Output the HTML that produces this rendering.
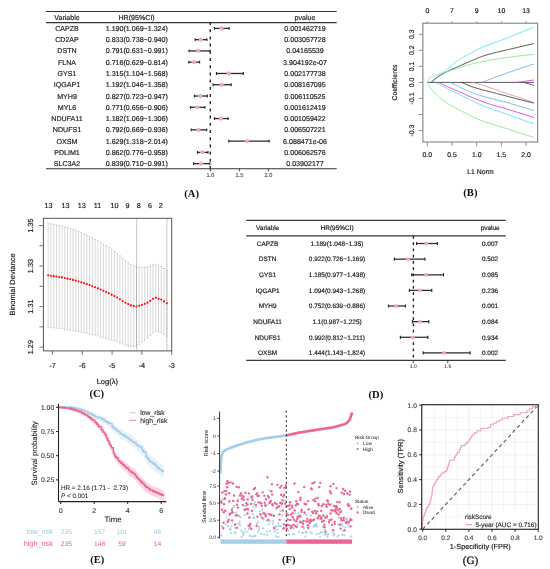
<!DOCTYPE html>
<html><head><meta charset="utf-8"><style>
html,body{margin:0;padding:0;background:#fff;}
svg{display:block;will-change:transform;}
text{text-rendering:geometricPrecision;}
</style></head><body>
<svg width="550" height="569" viewBox="0 0 550 569">
<rect width="550" height="569" fill="#fff"/>
<line x1="46" y1="11.5" x2="336.7" y2="11.5" stroke="#333" stroke-width="1.1"/>
<line x1="46" y1="22.6" x2="336.7" y2="22.6" stroke="#333" stroke-width="1.1"/>
<line x1="46" y1="168.7" x2="336.7" y2="168.7" stroke="#333" stroke-width="1.1"/>
<text x="67" y="19.54" font-size="7.1" text-anchor="middle" fill="#222" font-family='"Liberation Sans", sans-serif' stroke="#222" stroke-width="0.18">Variable</text>
<text x="136.6" y="19.54" font-size="7.1" text-anchor="middle" fill="#222" font-family='"Liberation Sans", sans-serif' stroke="#222" stroke-width="0.18">HR(95%CI)</text>
<text x="305" y="19.54" font-size="7.1" text-anchor="middle" fill="#222" font-family='"Liberation Sans", sans-serif' stroke="#222" stroke-width="0.18">pvalue</text>
<line x1="210.3" y1="22" x2="210.3" y2="168.7" stroke="#222" stroke-width="1.35" stroke-dasharray="3,4.2"/>
<text x="67" y="30.94" font-size="7.1" text-anchor="middle" fill="#222" font-family='"Liberation Sans", sans-serif' stroke="#222" stroke-width="0.18">CAPZB</text>
<text x="136.8" y="30.94" font-size="7.1" text-anchor="middle" fill="#222" font-family='"Liberation Sans", sans-serif' stroke="#222" stroke-width="0.18">1.190(1.069~1.324)</text>
<text x="305" y="30.94" font-size="7.1" text-anchor="middle" fill="#222" font-family='"Liberation Sans", sans-serif' stroke="#222" stroke-width="0.18">0.001462719</text>
<line x1="214.4" y1="28.4" x2="229.19" y2="28.4" stroke="#2a2a2a" stroke-width="1.3"/>
<line x1="214.4" y1="27" x2="214.4" y2="29.8" stroke="#222" stroke-width="1.1"/>
<line x1="229.19" y1="27" x2="229.19" y2="29.8" stroke="#222" stroke-width="1.1"/>
<circle cx="221.42" cy="28.4" r="2.15" fill="#f1a9c3"/>
<text x="67" y="42.21" font-size="7.1" text-anchor="middle" fill="#222" font-family='"Liberation Sans", sans-serif' stroke="#222" stroke-width="0.18">CD2AP</text>
<text x="136.8" y="42.21" font-size="7.1" text-anchor="middle" fill="#222" font-family='"Liberation Sans", sans-serif' stroke="#222" stroke-width="0.18">0.833(0.738~0.940)</text>
<text x="305" y="42.21" font-size="7.1" text-anchor="middle" fill="#222" font-family='"Liberation Sans", sans-serif' stroke="#222" stroke-width="0.18">0.003057728</text>
<line x1="195.2" y1="39.67" x2="206.92" y2="39.67" stroke="#2a2a2a" stroke-width="1.3"/>
<line x1="195.2" y1="38.27" x2="195.2" y2="41.07" stroke="#222" stroke-width="1.1"/>
<line x1="206.92" y1="38.27" x2="206.92" y2="41.07" stroke="#222" stroke-width="1.1"/>
<circle cx="200.71" cy="39.67" r="2.15" fill="#f1a9c3"/>
<text x="67" y="53.48" font-size="7.1" text-anchor="middle" fill="#222" font-family='"Liberation Sans", sans-serif' stroke="#222" stroke-width="0.18">DSTN</text>
<text x="136.8" y="53.48" font-size="7.1" text-anchor="middle" fill="#222" font-family='"Liberation Sans", sans-serif' stroke="#222" stroke-width="0.18">0.791(0.631~0.991)</text>
<text x="305" y="53.48" font-size="7.1" text-anchor="middle" fill="#222" font-family='"Liberation Sans", sans-serif' stroke="#222" stroke-width="0.18">0.04165539</text>
<line x1="189" y1="50.94" x2="209.88" y2="50.94" stroke="#2a2a2a" stroke-width="1.3"/>
<line x1="189" y1="49.54" x2="189" y2="52.34" stroke="#222" stroke-width="1.1"/>
<line x1="209.88" y1="49.54" x2="209.88" y2="52.34" stroke="#222" stroke-width="1.1"/>
<circle cx="198.28" cy="50.94" r="2.15" fill="#f1a9c3"/>
<text x="67" y="64.75" font-size="7.1" text-anchor="middle" fill="#222" font-family='"Liberation Sans", sans-serif' stroke="#222" stroke-width="0.18">FLNA</text>
<text x="136.8" y="64.75" font-size="7.1" text-anchor="middle" fill="#222" font-family='"Liberation Sans", sans-serif' stroke="#222" stroke-width="0.18">0.716(0.629~0.814)</text>
<text x="305" y="64.75" font-size="7.1" text-anchor="middle" fill="#222" font-family='"Liberation Sans", sans-serif' stroke="#222" stroke-width="0.18">3.904192e-07</text>
<line x1="188.88" y1="62.21" x2="199.61" y2="62.21" stroke="#2a2a2a" stroke-width="1.3"/>
<line x1="188.88" y1="60.81" x2="188.88" y2="63.61" stroke="#222" stroke-width="1.1"/>
<line x1="199.61" y1="60.81" x2="199.61" y2="63.61" stroke="#222" stroke-width="1.1"/>
<circle cx="193.93" cy="62.21" r="2.15" fill="#f1a9c3"/>
<text x="67" y="76.02" font-size="7.1" text-anchor="middle" fill="#222" font-family='"Liberation Sans", sans-serif' stroke="#222" stroke-width="0.18">GYS1</text>
<text x="136.8" y="76.02" font-size="7.1" text-anchor="middle" fill="#222" font-family='"Liberation Sans", sans-serif' stroke="#222" stroke-width="0.18">1.315(1.104~1.568)</text>
<text x="305" y="76.02" font-size="7.1" text-anchor="middle" fill="#222" font-family='"Liberation Sans", sans-serif' stroke="#222" stroke-width="0.18">0.002177738</text>
<line x1="216.43" y1="73.48" x2="243.34" y2="73.48" stroke="#2a2a2a" stroke-width="1.3"/>
<line x1="216.43" y1="72.08" x2="216.43" y2="74.88" stroke="#222" stroke-width="1.1"/>
<line x1="243.34" y1="72.08" x2="243.34" y2="74.88" stroke="#222" stroke-width="1.1"/>
<circle cx="228.67" cy="73.48" r="2.15" fill="#f1a9c3"/>
<text x="67" y="87.29" font-size="7.1" text-anchor="middle" fill="#222" font-family='"Liberation Sans", sans-serif' stroke="#222" stroke-width="0.18">IQGAP1</text>
<text x="136.8" y="87.29" font-size="7.1" text-anchor="middle" fill="#222" font-family='"Liberation Sans", sans-serif' stroke="#222" stroke-width="0.18">1.192(1.046~1.358)</text>
<text x="305" y="87.29" font-size="7.1" text-anchor="middle" fill="#222" font-family='"Liberation Sans", sans-serif' stroke="#222" stroke-width="0.18">0.008167095</text>
<line x1="213.07" y1="84.75" x2="231.16" y2="84.75" stroke="#2a2a2a" stroke-width="1.3"/>
<line x1="213.07" y1="83.35" x2="213.07" y2="86.15" stroke="#222" stroke-width="1.1"/>
<line x1="231.16" y1="83.35" x2="231.16" y2="86.15" stroke="#222" stroke-width="1.1"/>
<circle cx="221.54" cy="84.75" r="2.15" fill="#f1a9c3"/>
<text x="67" y="98.56" font-size="7.1" text-anchor="middle" fill="#222" font-family='"Liberation Sans", sans-serif' stroke="#222" stroke-width="0.18">MYH9</text>
<text x="136.8" y="98.56" font-size="7.1" text-anchor="middle" fill="#222" font-family='"Liberation Sans", sans-serif' stroke="#222" stroke-width="0.18">0.827(0.723~0.947)</text>
<text x="305" y="98.56" font-size="7.1" text-anchor="middle" fill="#222" font-family='"Liberation Sans", sans-serif' stroke="#222" stroke-width="0.18">0.006110525</text>
<line x1="194.33" y1="96.02" x2="207.33" y2="96.02" stroke="#2a2a2a" stroke-width="1.3"/>
<line x1="194.33" y1="94.62" x2="194.33" y2="97.42" stroke="#222" stroke-width="1.1"/>
<line x1="207.33" y1="94.62" x2="207.33" y2="97.42" stroke="#222" stroke-width="1.1"/>
<circle cx="200.37" cy="96.02" r="2.15" fill="#f1a9c3"/>
<text x="67" y="109.83" font-size="7.1" text-anchor="middle" fill="#222" font-family='"Liberation Sans", sans-serif' stroke="#222" stroke-width="0.18">MYL6</text>
<text x="136.8" y="109.83" font-size="7.1" text-anchor="middle" fill="#222" font-family='"Liberation Sans", sans-serif' stroke="#222" stroke-width="0.18">0.771(0.656~0.906)</text>
<text x="305" y="109.83" font-size="7.1" text-anchor="middle" fill="#222" font-family='"Liberation Sans", sans-serif' stroke="#222" stroke-width="0.18">0.001612419</text>
<line x1="190.45" y1="107.29" x2="204.95" y2="107.29" stroke="#2a2a2a" stroke-width="1.3"/>
<line x1="190.45" y1="105.89" x2="190.45" y2="108.69" stroke="#222" stroke-width="1.1"/>
<line x1="204.95" y1="105.89" x2="204.95" y2="108.69" stroke="#222" stroke-width="1.1"/>
<circle cx="197.12" cy="107.29" r="2.15" fill="#f1a9c3"/>
<text x="67" y="121.1" font-size="7.1" text-anchor="middle" fill="#222" font-family='"Liberation Sans", sans-serif' stroke="#222" stroke-width="0.18">NDUFA11</text>
<text x="136.8" y="121.1" font-size="7.1" text-anchor="middle" fill="#222" font-family='"Liberation Sans", sans-serif' stroke="#222" stroke-width="0.18">1.182(1.069~1.306)</text>
<text x="305" y="121.1" font-size="7.1" text-anchor="middle" fill="#222" font-family='"Liberation Sans", sans-serif' stroke="#222" stroke-width="0.18">0.001059422</text>
<line x1="214.4" y1="118.56" x2="228.15" y2="118.56" stroke="#2a2a2a" stroke-width="1.3"/>
<line x1="214.4" y1="117.16" x2="214.4" y2="119.96" stroke="#222" stroke-width="1.1"/>
<line x1="228.15" y1="117.16" x2="228.15" y2="119.96" stroke="#222" stroke-width="1.1"/>
<circle cx="220.96" cy="118.56" r="2.15" fill="#f1a9c3"/>
<text x="67" y="132.37" font-size="7.1" text-anchor="middle" fill="#222" font-family='"Liberation Sans", sans-serif' stroke="#222" stroke-width="0.18">NDUFS1</text>
<text x="136.8" y="132.37" font-size="7.1" text-anchor="middle" fill="#222" font-family='"Liberation Sans", sans-serif' stroke="#222" stroke-width="0.18">0.792(0.669~0.936)</text>
<text x="305" y="132.37" font-size="7.1" text-anchor="middle" fill="#222" font-family='"Liberation Sans", sans-serif' stroke="#222" stroke-width="0.18">0.006507221</text>
<line x1="191.2" y1="129.83" x2="206.69" y2="129.83" stroke="#2a2a2a" stroke-width="1.3"/>
<line x1="191.2" y1="128.43" x2="191.2" y2="131.23" stroke="#222" stroke-width="1.1"/>
<line x1="206.69" y1="128.43" x2="206.69" y2="131.23" stroke="#222" stroke-width="1.1"/>
<circle cx="198.34" cy="129.83" r="2.15" fill="#f1a9c3"/>
<text x="67" y="143.64" font-size="7.1" text-anchor="middle" fill="#222" font-family='"Liberation Sans", sans-serif' stroke="#222" stroke-width="0.18">OXSM</text>
<text x="136.8" y="143.64" font-size="7.1" text-anchor="middle" fill="#222" font-family='"Liberation Sans", sans-serif' stroke="#222" stroke-width="0.18">1.629(1.318~2.014)</text>
<text x="305" y="143.64" font-size="7.1" text-anchor="middle" fill="#222" font-family='"Liberation Sans", sans-serif' stroke="#222" stroke-width="0.18">6.088471e-06</text>
<line x1="228.84" y1="141.1" x2="269.21" y2="141.1" stroke="#2a2a2a" stroke-width="1.3"/>
<line x1="228.84" y1="139.7" x2="228.84" y2="142.5" stroke="#222" stroke-width="1.1"/>
<line x1="269.21" y1="139.7" x2="269.21" y2="142.5" stroke="#222" stroke-width="1.1"/>
<circle cx="246.88" cy="141.1" r="2.15" fill="#f1a9c3"/>
<text x="67" y="154.91" font-size="7.1" text-anchor="middle" fill="#222" font-family='"Liberation Sans", sans-serif' stroke="#222" stroke-width="0.18">PDLIM1</text>
<text x="136.8" y="154.91" font-size="7.1" text-anchor="middle" fill="#222" font-family='"Liberation Sans", sans-serif' stroke="#222" stroke-width="0.18">0.862(0.776~0.958)</text>
<text x="305" y="154.91" font-size="7.1" text-anchor="middle" fill="#222" font-family='"Liberation Sans", sans-serif' stroke="#222" stroke-width="0.18">0.006062576</text>
<line x1="197.41" y1="152.37" x2="207.96" y2="152.37" stroke="#2a2a2a" stroke-width="1.3"/>
<line x1="197.41" y1="150.97" x2="197.41" y2="153.77" stroke="#222" stroke-width="1.1"/>
<line x1="207.96" y1="150.97" x2="207.96" y2="153.77" stroke="#222" stroke-width="1.1"/>
<circle cx="202.4" cy="152.37" r="2.15" fill="#f1a9c3"/>
<text x="67" y="166.18" font-size="7.1" text-anchor="middle" fill="#222" font-family='"Liberation Sans", sans-serif' stroke="#222" stroke-width="0.18">SLC3A2</text>
<text x="136.8" y="166.18" font-size="7.1" text-anchor="middle" fill="#222" font-family='"Liberation Sans", sans-serif' stroke="#222" stroke-width="0.18">0.839(0.710~0.991)</text>
<text x="305" y="166.18" font-size="7.1" text-anchor="middle" fill="#222" font-family='"Liberation Sans", sans-serif' stroke="#222" stroke-width="0.18">0.03902177</text>
<line x1="193.58" y1="163.64" x2="209.88" y2="163.64" stroke="#2a2a2a" stroke-width="1.3"/>
<line x1="193.58" y1="162.24" x2="193.58" y2="165.04" stroke="#222" stroke-width="1.1"/>
<line x1="209.88" y1="162.24" x2="209.88" y2="165.04" stroke="#222" stroke-width="1.1"/>
<circle cx="201.06" cy="163.64" r="2.15" fill="#f1a9c3"/>
<line x1="210.4" y1="168.7" x2="210.4" y2="171.2" stroke="#333" stroke-width="0.9"/>
<text x="210.4" y="177.3" font-size="5.6" text-anchor="middle" fill="#444" font-family='"Liberation Sans", sans-serif' stroke="#444" stroke-width="0.1">1.0</text>
<line x1="239.4" y1="168.7" x2="239.4" y2="171.2" stroke="#333" stroke-width="0.9"/>
<text x="239.4" y="177.3" font-size="5.6" text-anchor="middle" fill="#444" font-family='"Liberation Sans", sans-serif' stroke="#444" stroke-width="0.1">1.5</text>
<line x1="268.4" y1="168.7" x2="268.4" y2="171.2" stroke="#333" stroke-width="0.9"/>
<text x="268.4" y="177.3" font-size="5.6" text-anchor="middle" fill="#444" font-family='"Liberation Sans", sans-serif' stroke="#444" stroke-width="0.1">2.0</text>
<text x="191.6" y="196.61" font-size="10.6" text-anchor="middle" fill="#111" font-family='"Liberation Serif", serif' font-weight="bold">(A)</text>
<rect x="422.9" y="23.2" width="114.8" height="118.8" fill="none" stroke="#777" stroke-width="1"/>
<line x1="427.3" y1="23.2" x2="427.3" y2="21.4" stroke="#777" stroke-width="0.8"/>
<text x="427.3" y="13.47" font-size="6.9" text-anchor="middle" fill="#222" font-family='"Liberation Sans", sans-serif' stroke="#222" stroke-width="0.18">0</text>
<line x1="452" y1="23.2" x2="452" y2="21.4" stroke="#777" stroke-width="0.8"/>
<text x="452" y="13.47" font-size="6.9" text-anchor="middle" fill="#222" font-family='"Liberation Sans", sans-serif' stroke="#222" stroke-width="0.18">7</text>
<line x1="476.7" y1="23.2" x2="476.7" y2="21.4" stroke="#777" stroke-width="0.8"/>
<text x="476.7" y="13.47" font-size="6.9" text-anchor="middle" fill="#222" font-family='"Liberation Sans", sans-serif' stroke="#222" stroke-width="0.18">9</text>
<line x1="501.4" y1="23.2" x2="501.4" y2="21.4" stroke="#777" stroke-width="0.8"/>
<text x="501.4" y="13.47" font-size="6.9" text-anchor="middle" fill="#222" font-family='"Liberation Sans", sans-serif' stroke="#222" stroke-width="0.18">10</text>
<line x1="526.1" y1="23.2" x2="526.1" y2="21.4" stroke="#777" stroke-width="0.8"/>
<text x="526.1" y="13.47" font-size="6.9" text-anchor="middle" fill="#222" font-family='"Liberation Sans", sans-serif' stroke="#222" stroke-width="0.18">13</text>
<line x1="427.3" y1="142" x2="427.3" y2="146.2" stroke="#777" stroke-width="0.8"/>
<text x="427.3" y="157.37" font-size="6.9" text-anchor="middle" fill="#222" font-family='"Liberation Sans", sans-serif' stroke="#222" stroke-width="0.18">0.0</text>
<line x1="452" y1="142" x2="452" y2="146.2" stroke="#777" stroke-width="0.8"/>
<text x="452" y="157.37" font-size="6.9" text-anchor="middle" fill="#222" font-family='"Liberation Sans", sans-serif' stroke="#222" stroke-width="0.18">0.5</text>
<line x1="476.7" y1="142" x2="476.7" y2="146.2" stroke="#777" stroke-width="0.8"/>
<text x="476.7" y="157.37" font-size="6.9" text-anchor="middle" fill="#222" font-family='"Liberation Sans", sans-serif' stroke="#222" stroke-width="0.18">1.0</text>
<line x1="501.4" y1="142" x2="501.4" y2="146.2" stroke="#777" stroke-width="0.8"/>
<text x="501.4" y="157.37" font-size="6.9" text-anchor="middle" fill="#222" font-family='"Liberation Sans", sans-serif' stroke="#222" stroke-width="0.18">1.5</text>
<line x1="526.1" y1="142" x2="526.1" y2="146.2" stroke="#777" stroke-width="0.8"/>
<text x="526.1" y="157.37" font-size="6.9" text-anchor="middle" fill="#222" font-family='"Liberation Sans", sans-serif' stroke="#222" stroke-width="0.18">2.0</text>
<line x1="422.9" y1="34.22" x2="418.7" y2="34.22" stroke="#777" stroke-width="0.8"/>
<text x="411.2" y="36.69" font-size="6.9" text-anchor="middle" fill="#222" font-family='"Liberation Sans", sans-serif' transform="rotate(-90 411.2 34.22)" stroke="#222" stroke-width="0.18">0.3</text>
<line x1="422.9" y1="50.28" x2="418.7" y2="50.28" stroke="#777" stroke-width="0.8"/>
<text x="411.2" y="52.75" font-size="6.9" text-anchor="middle" fill="#222" font-family='"Liberation Sans", sans-serif' transform="rotate(-90 411.2 50.28)" stroke="#222" stroke-width="0.18">0.2</text>
<line x1="422.9" y1="66.34" x2="418.7" y2="66.34" stroke="#777" stroke-width="0.8"/>
<text x="411.2" y="68.81" font-size="6.9" text-anchor="middle" fill="#222" font-family='"Liberation Sans", sans-serif' transform="rotate(-90 411.2 66.34)" stroke="#222" stroke-width="0.18">0.1</text>
<line x1="422.9" y1="82.4" x2="418.7" y2="82.4" stroke="#777" stroke-width="0.8"/>
<text x="411.2" y="84.87" font-size="6.9" text-anchor="middle" fill="#222" font-family='"Liberation Sans", sans-serif' transform="rotate(-90 411.2 82.4)" stroke="#222" stroke-width="0.18">0.0</text>
<line x1="422.9" y1="98.46" x2="418.7" y2="98.46" stroke="#777" stroke-width="0.8"/>
<text x="411.2" y="100.93" font-size="6.9" text-anchor="middle" fill="#222" font-family='"Liberation Sans", sans-serif' transform="rotate(-90 411.2 98.46)" stroke="#222" stroke-width="0.18">-0.1</text>
<line x1="422.9" y1="114.52" x2="418.7" y2="114.52" stroke="#777" stroke-width="0.8"/>
<line x1="422.9" y1="130.58" x2="418.7" y2="130.58" stroke="#777" stroke-width="0.8"/>
<text x="411.2" y="133.05" font-size="6.9" text-anchor="middle" fill="#222" font-family='"Liberation Sans", sans-serif' transform="rotate(-90 411.2 130.58)" stroke="#222" stroke-width="0.18">-0.3</text>
<text x="480.5" y="174.07" font-size="6.9" text-anchor="middle" fill="#222" font-family='"Liberation Sans", sans-serif' stroke="#222" stroke-width="0.18">L1 Norm</text>
<text x="394.7" y="85.07" font-size="6.9" text-anchor="middle" fill="#222" font-family='"Liberation Sans", sans-serif' transform="rotate(-90 394.7 82.6)" stroke="#222" stroke-width="0.18">Coefficients</text>
<text x="470.4" y="196.01" font-size="10.6" text-anchor="middle" fill="#111" font-family='"Liberation Serif", serif' font-weight="bold">(B)</text>
<line x1="427.5" y1="82.4" x2="533.9" y2="82.4" stroke="#444" stroke-width="0.9"/>
<polyline points="430.7,82.6 431.34,82.04 432.24,81.27 433.3,80.35 434.43,79.38 435.52,78.43 436.5,77.6 437.36,76.88 438.17,76.19 438.96,75.54 439.73,74.9 440.51,74.26 441.3,73.6 442.12,72.92 442.97,72.23 443.81,71.54 444.64,70.86 445.45,70.21 446.2,69.6 446.82,69.1 447.3,68.7 447.75,68.34 448.28,67.92 448.99,67.37 450,66.6 451.36,65.55 453,64.28 454.82,62.87 456.74,61.43 458.67,60.04 460.5,58.8 462.26,57.71 464.03,56.7 465.8,55.74 467.57,54.82 469.34,53.91 471.1,53 472.85,52.08 474.6,51.16 476.35,50.25 478.1,49.37 479.85,48.51 481.6,47.7 483.39,46.92 485.23,46.17 487.07,45.44 488.87,44.76 490.59,44.11 492.2,43.5 493.68,42.95 495.06,42.45 496.36,41.99 497.6,41.55 498.81,41.13 500,40.7 501.08,40.31 502,39.99 502.89,39.67 503.86,39.31 505.03,38.87 506.5,38.3 508.34,37.57 510.47,36.7 512.79,35.76 515.21,34.76 517.65,33.76 520,32.8 522.45,31.8 525.12,30.7 527.79,29.61 530.28,28.59 532.38,27.72 533.9,27.1" fill="none" stroke="#5ee3ec" stroke-width="0.9" stroke-linejoin="round"/>
<polyline points="430.7,82.6 431.34,82.08 432.24,81.36 433.3,80.5 434.43,79.6 435.52,78.74 436.5,78 437.36,77.38 438.17,76.81 438.96,76.29 439.73,75.79 440.51,75.29 441.3,74.8 442.12,74.3 442.97,73.8 443.81,73.31 444.64,72.84 445.45,72.4 446.2,72 446.82,71.67 447.3,71.43 447.75,71.21 448.28,70.97 448.99,70.65 450,70.2 451.36,69.6 453,68.88 454.82,68.08 456.74,67.24 458.67,66.4 460.5,65.6 462.26,64.82 464.03,64.03 465.8,63.23 467.57,62.44 469.34,61.66 471.1,60.9 472.85,60.15 474.6,59.4 476.35,58.66 478.1,57.94 479.85,57.25 481.6,56.6 483.39,55.99 485.23,55.4 487.07,54.85 488.87,54.33 490.59,53.85 492.2,53.4 493.68,53 495.06,52.66 496.36,52.34 497.6,52.06 498.81,51.78 500,51.5 501.08,51.25 502,51.03 502.89,50.83 503.86,50.61 505.03,50.34 506.5,50 508.34,49.57 510.47,49.06 512.79,48.51 515.21,47.93 517.65,47.35 520,46.8 522.45,46.23 525.12,45.61 527.79,45 530.28,44.43 532.38,43.95 533.9,43.6" fill="none" stroke="#444" stroke-width="0.9" stroke-linejoin="round"/>
<polyline points="427,82.6 427.28,82.1 427.66,81.39 428.11,80.55 428.61,79.68 429.15,78.87 429.7,78.2 430.26,77.68 430.84,77.23 431.46,76.83 432.11,76.47 432.83,76.14 433.6,75.8 434.45,75.48 435.36,75.2 436.32,74.94 437.32,74.68 438.35,74.4 439.4,74.1 440.51,73.75 441.7,73.36 442.92,72.96 444.12,72.57 445.23,72.21 446.2,71.9 446.93,71.68 447.44,71.54 447.87,71.44 448.35,71.31 449.01,71.12 450,70.8 451.36,70.34 453,69.76 454.82,69.12 456.74,68.45 458.67,67.79 460.5,67.2 462.26,66.66 464.03,66.13 465.8,65.63 467.57,65.13 469.34,64.66 471.1,64.2 472.85,63.76 474.6,63.34 476.35,62.94 478.1,62.55 479.85,62.17 481.6,61.8 483.32,61.45 484.99,61.11 486.66,60.79 488.39,60.47 490.22,60.14 492.2,59.8 494.38,59.44 496.72,59.06 499.17,58.68 501.66,58.3 504.12,57.94 506.5,57.6 508.79,57.29 511.04,57 513.28,56.72 515.5,56.45 517.74,56.18 520,55.9 522.45,55.6 525.12,55.27 527.79,54.94 530.28,54.64 532.38,54.38 533.9,54.2" fill="none" stroke="#8fe38f" stroke-width="0.9" stroke-linejoin="round"/>
<polyline points="482,82.5 482.85,82.14 484,81.66 485.38,81.08 486.89,80.44 488.46,79.81 490,79.2 491.48,78.64 492.96,78.1 494.5,77.55 496.15,76.97 497.96,76.33 500,75.6 502.3,74.77 504.82,73.86 507.51,72.89 510.3,71.89 513.15,70.89 516,69.9 519.08,68.86 522.49,67.73 525.95,66.59 529.19,65.54 531.93,64.64 533.9,64" fill="none" stroke="#6ab4f0" stroke-width="0.9" stroke-linejoin="round"/>
<polyline points="516.8,82.4 518.86,82.11 521.87,81.69 525.35,81.2 528.83,80.71 531.84,80.29 533.9,80" fill="none" stroke="#e040d8" stroke-width="0.9" stroke-linejoin="round"/>
<polyline points="523.7,82.4 524.93,82.76 526.72,83.29 528.8,83.9 530.88,84.51 532.67,85.04 533.9,85.4" fill="none" stroke="#555" stroke-width="0.9" stroke-linejoin="round"/>
<polyline points="472.2,82.4 473.21,82.66 474.59,83.01 476.24,83.43 478.03,83.89 479.86,84.39 481.6,84.9 483.33,85.45 485.15,86.05 487,86.69 488.83,87.33 490.58,87.94 492.2,88.5 493.68,89.01 495.06,89.49 496.36,89.94 497.6,90.37 498.81,90.79 500,91.2 501.08,91.57 502,91.89 502.89,92.19 503.86,92.51 505.03,92.91 506.5,93.4 508.34,94.02 510.47,94.73 512.79,95.5 515.21,96.31 517.65,97.12 520,97.9 522.45,98.71 525.12,99.6 527.79,100.48 530.28,101.3 532.38,102 533.9,102.5" fill="none" stroke="#f0909a" stroke-width="0.9" stroke-linejoin="round"/>
<polyline points="461.6,82.4 462.62,82.84 464.03,83.47 465.69,84.2 467.51,84.98 469.35,85.73 471.1,86.4 472.79,86.99 474.52,87.54 476.28,88.08 478.06,88.6 479.83,89.1 481.6,89.6 483.39,90.09 485.23,90.56 487.07,91.02 488.87,91.46 490.59,91.89 492.2,92.3 493.68,92.69 495.06,93.06 496.36,93.41 497.6,93.75 498.81,94.08 500,94.4 501.08,94.69 502,94.93 502.89,95.16 503.86,95.41 505.03,95.72 506.5,96.1 508.34,96.58 510.47,97.13 512.79,97.74 515.21,98.37 517.65,99 520,99.6 522.45,100.22 525.12,100.9 527.79,101.57 530.28,102.19 532.38,102.72 533.9,103.1" fill="none" stroke="#444" stroke-width="0.9" stroke-linejoin="round"/>
<polyline points="450,82.6 450.8,82.94 451.94,83.41 453.28,83.97 454.67,84.56 455.95,85.12 457,85.6 457.7,85.96 458.16,86.24 458.53,86.5 458.94,86.78 459.55,87.13 460.5,87.6 461.86,88.23 463.51,88.97 465.36,89.79 467.31,90.64 469.26,91.46 471.1,92.2 472.85,92.88 474.6,93.53 476.35,94.16 478.1,94.76 479.85,95.34 481.6,95.9 483.39,96.44 485.23,96.96 487.07,97.46 488.87,97.93 490.59,98.38 492.2,98.8 493.68,99.19 495.06,99.55 496.36,99.88 497.6,100.2 498.81,100.5 500,100.8 501.08,101.06 502,101.27 502.89,101.48 503.86,101.7 505.03,102 506.5,102.4 508.34,102.93 510.47,103.55 512.79,104.24 515.21,104.97 517.65,105.7 520,106.4 522.45,107.12 525.12,107.91 527.79,108.7 530.28,109.43 532.38,110.05 533.9,110.5" fill="none" stroke="#6ab4f0" stroke-width="0.9" stroke-linejoin="round"/>
<polyline points="439.4,82.6 440.17,82.99 441.27,83.54 442.56,84.19 443.9,84.86 445.16,85.49 446.2,86 446.97,86.38 447.57,86.68 448.09,86.93 448.61,87.18 449.22,87.45 450,87.8 451.02,88.23 452.23,88.73 453.52,89.26 454.81,89.79 456,90.28 457,90.7 457.7,91.01 458.16,91.21 458.53,91.39 458.94,91.59 459.55,91.87 460.5,92.3 461.86,92.91 463.51,93.66 465.36,94.49 467.31,95.36 469.26,96.21 471.1,97 472.85,97.73 474.6,98.46 476.35,99.16 478.1,99.86 479.85,100.53 481.6,101.2 483.39,101.86 485.23,102.53 487.07,103.18 488.87,103.8 490.59,104.38 492.2,104.9 493.68,105.34 495.06,105.73 496.36,106.06 497.6,106.37 498.81,106.68 500,107 501.08,107.3 502,107.56 502.89,107.82 503.86,108.1 505.03,108.45 506.5,108.9 508.34,109.47 510.47,110.13 512.79,110.85 515.21,111.61 517.65,112.37 520,113.1 522.45,113.86 525.12,114.69 527.79,115.51 530.28,116.28 532.38,116.93 533.9,117.4" fill="none" stroke="#e040d8" stroke-width="0.9" stroke-linejoin="round"/>
<polyline points="436.5,83 437.62,83.57 439.23,84.37 441.11,85.32 443.04,86.29 444.81,87.19 446.2,87.9 447.1,88.38 447.66,88.7 448.05,88.95 448.46,89.2 449.05,89.52 450,90 451.36,90.65 453,91.41 454.82,92.25 456.74,93.13 458.67,94.03 460.5,94.9 462.26,95.76 464.03,96.65 465.8,97.54 467.57,98.44 469.34,99.33 471.1,100.2 472.85,101.06 474.6,101.93 476.35,102.79 478.1,103.63 479.85,104.43 481.6,105.2 483.39,105.93 485.23,106.63 487.07,107.29 488.87,107.93 490.59,108.53 492.2,109.1 493.68,109.62 495.06,110.1 496.36,110.54 497.6,110.97 498.81,111.38 500,111.8 501.08,112.19 502,112.53 502.89,112.87 503.86,113.23 505.03,113.66 506.5,114.2 508.34,114.86 510.47,115.63 512.79,116.46 515.21,117.32 517.65,118.18 520,119 522.45,119.84 525.12,120.75 527.79,121.65 530.28,122.49 532.38,123.19 533.9,123.7" fill="none" stroke="#5ee3ec" stroke-width="0.9" stroke-linejoin="round"/>
<polyline points="427,82.6 427.28,83.06 427.66,83.69 428.11,84.44 428.61,85.26 429.15,86.1 429.7,86.9 430.26,87.67 430.84,88.46 431.46,89.27 432.11,90.09 432.83,90.94 433.6,91.8 434.45,92.7 435.36,93.64 436.32,94.59 437.32,95.55 438.35,96.49 439.4,97.4 440.51,98.3 441.7,99.2 442.92,100.09 444.12,100.94 445.23,101.72 446.2,102.4 446.97,102.95 447.57,103.37 448.09,103.73 448.61,104.06 449.22,104.44 450,104.9 451.02,105.48 452.23,106.14 453.52,106.84 454.81,107.53 456,108.16 457,108.7 457.7,109.09 458.16,109.34 458.53,109.55 458.94,109.78 459.55,110.1 460.5,110.6 461.86,111.31 463.51,112.17 465.36,113.13 467.31,114.13 469.26,115.11 471.1,116 472.85,116.82 474.6,117.63 476.35,118.41 478.1,119.17 479.85,119.9 481.6,120.6 483.39,121.27 485.23,121.92 487.07,122.54 488.87,123.13 490.59,123.68 492.2,124.2 493.68,124.67 495.06,125.1 496.36,125.5 497.6,125.87 498.81,126.24 500,126.6 501.08,126.93 502,127.21 502.89,127.47 503.86,127.77 505.03,128.13 506.5,128.6 508.34,129.19 510.47,129.89 512.79,130.65 515.21,131.44 517.65,132.24 520,133 522.45,133.78 525.12,134.63 527.79,135.47 530.28,136.26 532.38,136.92 533.9,137.4" fill="none" stroke="#8fe38f" stroke-width="0.9" stroke-linejoin="round"/>
<line x1="48.2" y1="223.3" x2="48.2" y2="327.3" stroke="#c8c8c8" stroke-width="0.7"/>
<line x1="47.4" y1="223.3" x2="49" y2="223.3" stroke="#b0b0b0" stroke-width="0.7"/>
<line x1="47.4" y1="327.3" x2="49" y2="327.3" stroke="#b0b0b0" stroke-width="0.7"/>
<line x1="50.96" y1="223.87" x2="50.96" y2="327.57" stroke="#c8c8c8" stroke-width="0.7"/>
<line x1="50.16" y1="223.87" x2="51.76" y2="223.87" stroke="#b0b0b0" stroke-width="0.7"/>
<line x1="50.16" y1="327.57" x2="51.76" y2="327.57" stroke="#b0b0b0" stroke-width="0.7"/>
<line x1="53.72" y1="224.45" x2="53.72" y2="327.83" stroke="#c8c8c8" stroke-width="0.7"/>
<line x1="52.92" y1="224.45" x2="54.52" y2="224.45" stroke="#b0b0b0" stroke-width="0.7"/>
<line x1="52.92" y1="327.83" x2="54.52" y2="327.83" stroke="#b0b0b0" stroke-width="0.7"/>
<line x1="56.47" y1="225.02" x2="56.47" y2="328.1" stroke="#c8c8c8" stroke-width="0.7"/>
<line x1="55.67" y1="225.02" x2="57.27" y2="225.02" stroke="#b0b0b0" stroke-width="0.7"/>
<line x1="55.67" y1="328.1" x2="57.27" y2="328.1" stroke="#b0b0b0" stroke-width="0.7"/>
<line x1="59.23" y1="225.6" x2="59.23" y2="328.36" stroke="#c8c8c8" stroke-width="0.7"/>
<line x1="58.43" y1="225.6" x2="60.03" y2="225.6" stroke="#b0b0b0" stroke-width="0.7"/>
<line x1="58.43" y1="328.36" x2="60.03" y2="328.36" stroke="#b0b0b0" stroke-width="0.7"/>
<line x1="61.99" y1="226.17" x2="61.99" y2="328.63" stroke="#c8c8c8" stroke-width="0.7"/>
<line x1="61.19" y1="226.17" x2="62.79" y2="226.17" stroke="#b0b0b0" stroke-width="0.7"/>
<line x1="61.19" y1="328.63" x2="62.79" y2="328.63" stroke="#b0b0b0" stroke-width="0.7"/>
<line x1="64.75" y1="226.95" x2="64.75" y2="329.1" stroke="#c8c8c8" stroke-width="0.7"/>
<line x1="63.95" y1="226.95" x2="65.55" y2="226.95" stroke="#b0b0b0" stroke-width="0.7"/>
<line x1="63.95" y1="329.1" x2="65.55" y2="329.1" stroke="#b0b0b0" stroke-width="0.7"/>
<line x1="67.51" y1="227.73" x2="67.51" y2="329.57" stroke="#c8c8c8" stroke-width="0.7"/>
<line x1="66.71" y1="227.73" x2="68.31" y2="227.73" stroke="#b0b0b0" stroke-width="0.7"/>
<line x1="66.71" y1="329.57" x2="68.31" y2="329.57" stroke="#b0b0b0" stroke-width="0.7"/>
<line x1="70.27" y1="228.51" x2="70.27" y2="330.04" stroke="#c8c8c8" stroke-width="0.7"/>
<line x1="69.47" y1="228.51" x2="71.07" y2="228.51" stroke="#b0b0b0" stroke-width="0.7"/>
<line x1="69.47" y1="330.04" x2="71.07" y2="330.04" stroke="#b0b0b0" stroke-width="0.7"/>
<line x1="73.02" y1="229.29" x2="73.02" y2="330.52" stroke="#c8c8c8" stroke-width="0.7"/>
<line x1="72.22" y1="229.29" x2="73.82" y2="229.29" stroke="#b0b0b0" stroke-width="0.7"/>
<line x1="72.22" y1="330.52" x2="73.82" y2="330.52" stroke="#b0b0b0" stroke-width="0.7"/>
<line x1="75.78" y1="230.18" x2="75.78" y2="330.98" stroke="#c8c8c8" stroke-width="0.7"/>
<line x1="74.98" y1="230.18" x2="76.58" y2="230.18" stroke="#b0b0b0" stroke-width="0.7"/>
<line x1="74.98" y1="330.98" x2="76.58" y2="330.98" stroke="#b0b0b0" stroke-width="0.7"/>
<line x1="78.54" y1="231.41" x2="78.54" y2="331.5" stroke="#c8c8c8" stroke-width="0.7"/>
<line x1="77.74" y1="231.41" x2="79.34" y2="231.41" stroke="#b0b0b0" stroke-width="0.7"/>
<line x1="77.74" y1="331.5" x2="79.34" y2="331.5" stroke="#b0b0b0" stroke-width="0.7"/>
<line x1="81.3" y1="232.64" x2="81.3" y2="332.02" stroke="#c8c8c8" stroke-width="0.7"/>
<line x1="80.5" y1="232.64" x2="82.1" y2="232.64" stroke="#b0b0b0" stroke-width="0.7"/>
<line x1="80.5" y1="332.02" x2="82.1" y2="332.02" stroke="#b0b0b0" stroke-width="0.7"/>
<line x1="84.06" y1="233.87" x2="84.06" y2="332.54" stroke="#c8c8c8" stroke-width="0.7"/>
<line x1="83.26" y1="233.87" x2="84.86" y2="233.87" stroke="#b0b0b0" stroke-width="0.7"/>
<line x1="83.26" y1="332.54" x2="84.86" y2="332.54" stroke="#b0b0b0" stroke-width="0.7"/>
<line x1="86.81" y1="235.09" x2="86.81" y2="333.06" stroke="#c8c8c8" stroke-width="0.7"/>
<line x1="86.01" y1="235.09" x2="87.61" y2="235.09" stroke="#b0b0b0" stroke-width="0.7"/>
<line x1="86.01" y1="333.06" x2="87.61" y2="333.06" stroke="#b0b0b0" stroke-width="0.7"/>
<line x1="89.57" y1="236.49" x2="89.57" y2="333.75" stroke="#c8c8c8" stroke-width="0.7"/>
<line x1="88.77" y1="236.49" x2="90.37" y2="236.49" stroke="#b0b0b0" stroke-width="0.7"/>
<line x1="88.77" y1="333.75" x2="90.37" y2="333.75" stroke="#b0b0b0" stroke-width="0.7"/>
<line x1="92.33" y1="237.92" x2="92.33" y2="334.47" stroke="#c8c8c8" stroke-width="0.7"/>
<line x1="91.53" y1="237.92" x2="93.13" y2="237.92" stroke="#b0b0b0" stroke-width="0.7"/>
<line x1="91.53" y1="334.47" x2="93.13" y2="334.47" stroke="#b0b0b0" stroke-width="0.7"/>
<line x1="95.09" y1="239.35" x2="95.09" y2="335.19" stroke="#c8c8c8" stroke-width="0.7"/>
<line x1="94.29" y1="239.35" x2="95.89" y2="239.35" stroke="#b0b0b0" stroke-width="0.7"/>
<line x1="94.29" y1="335.19" x2="95.89" y2="335.19" stroke="#b0b0b0" stroke-width="0.7"/>
<line x1="97.85" y1="240.77" x2="97.85" y2="335.91" stroke="#c8c8c8" stroke-width="0.7"/>
<line x1="97.05" y1="240.77" x2="98.65" y2="240.77" stroke="#b0b0b0" stroke-width="0.7"/>
<line x1="97.05" y1="335.91" x2="98.65" y2="335.91" stroke="#b0b0b0" stroke-width="0.7"/>
<line x1="100.6" y1="242.35" x2="100.6" y2="336.77" stroke="#c8c8c8" stroke-width="0.7"/>
<line x1="99.8" y1="242.35" x2="101.4" y2="242.35" stroke="#b0b0b0" stroke-width="0.7"/>
<line x1="99.8" y1="336.77" x2="101.4" y2="336.77" stroke="#b0b0b0" stroke-width="0.7"/>
<line x1="103.36" y1="243.98" x2="103.36" y2="337.59" stroke="#c8c8c8" stroke-width="0.7"/>
<line x1="102.56" y1="243.98" x2="104.16" y2="243.98" stroke="#b0b0b0" stroke-width="0.7"/>
<line x1="102.56" y1="337.59" x2="104.16" y2="337.59" stroke="#b0b0b0" stroke-width="0.7"/>
<line x1="106.12" y1="245.61" x2="106.12" y2="338.41" stroke="#c8c8c8" stroke-width="0.7"/>
<line x1="105.32" y1="245.61" x2="106.92" y2="245.61" stroke="#b0b0b0" stroke-width="0.7"/>
<line x1="105.32" y1="338.41" x2="106.92" y2="338.41" stroke="#b0b0b0" stroke-width="0.7"/>
<line x1="108.88" y1="247.26" x2="108.88" y2="339.22" stroke="#c8c8c8" stroke-width="0.7"/>
<line x1="108.08" y1="247.26" x2="109.68" y2="247.26" stroke="#b0b0b0" stroke-width="0.7"/>
<line x1="108.08" y1="339.22" x2="109.68" y2="339.22" stroke="#b0b0b0" stroke-width="0.7"/>
<line x1="111.64" y1="249.34" x2="111.64" y2="340" stroke="#c8c8c8" stroke-width="0.7"/>
<line x1="110.84" y1="249.34" x2="112.44" y2="249.34" stroke="#b0b0b0" stroke-width="0.7"/>
<line x1="110.84" y1="340" x2="112.44" y2="340" stroke="#b0b0b0" stroke-width="0.7"/>
<line x1="114.4" y1="251.41" x2="114.4" y2="340.77" stroke="#c8c8c8" stroke-width="0.7"/>
<line x1="113.6" y1="251.41" x2="115.2" y2="251.41" stroke="#b0b0b0" stroke-width="0.7"/>
<line x1="113.6" y1="340.77" x2="115.2" y2="340.77" stroke="#b0b0b0" stroke-width="0.7"/>
<line x1="117.15" y1="253.49" x2="117.15" y2="341.55" stroke="#c8c8c8" stroke-width="0.7"/>
<line x1="116.35" y1="253.49" x2="117.95" y2="253.49" stroke="#b0b0b0" stroke-width="0.7"/>
<line x1="116.35" y1="341.55" x2="117.95" y2="341.55" stroke="#b0b0b0" stroke-width="0.7"/>
<line x1="119.91" y1="255.78" x2="119.91" y2="342.63" stroke="#c8c8c8" stroke-width="0.7"/>
<line x1="119.11" y1="255.78" x2="120.71" y2="255.78" stroke="#b0b0b0" stroke-width="0.7"/>
<line x1="119.11" y1="342.63" x2="120.71" y2="342.63" stroke="#b0b0b0" stroke-width="0.7"/>
<line x1="122.67" y1="258.13" x2="122.67" y2="343.8" stroke="#c8c8c8" stroke-width="0.7"/>
<line x1="121.87" y1="258.13" x2="123.47" y2="258.13" stroke="#b0b0b0" stroke-width="0.7"/>
<line x1="121.87" y1="343.8" x2="123.47" y2="343.8" stroke="#b0b0b0" stroke-width="0.7"/>
<line x1="125.43" y1="260.47" x2="125.43" y2="344.95" stroke="#c8c8c8" stroke-width="0.7"/>
<line x1="124.63" y1="260.47" x2="126.23" y2="260.47" stroke="#b0b0b0" stroke-width="0.7"/>
<line x1="124.63" y1="344.95" x2="126.23" y2="344.95" stroke="#b0b0b0" stroke-width="0.7"/>
<line x1="128.19" y1="262.42" x2="128.19" y2="345.72" stroke="#c8c8c8" stroke-width="0.7"/>
<line x1="127.39" y1="262.42" x2="128.99" y2="262.42" stroke="#b0b0b0" stroke-width="0.7"/>
<line x1="127.39" y1="345.72" x2="128.99" y2="345.72" stroke="#b0b0b0" stroke-width="0.7"/>
<line x1="130.94" y1="264.37" x2="130.94" y2="346.48" stroke="#c8c8c8" stroke-width="0.7"/>
<line x1="130.14" y1="264.37" x2="131.74" y2="264.37" stroke="#b0b0b0" stroke-width="0.7"/>
<line x1="130.14" y1="346.48" x2="131.74" y2="346.48" stroke="#b0b0b0" stroke-width="0.7"/>
<line x1="133.7" y1="265.49" x2="133.7" y2="346.42" stroke="#c8c8c8" stroke-width="0.7"/>
<line x1="132.9" y1="265.49" x2="134.5" y2="265.49" stroke="#b0b0b0" stroke-width="0.7"/>
<line x1="132.9" y1="346.42" x2="134.5" y2="346.42" stroke="#b0b0b0" stroke-width="0.7"/>
<line x1="136.46" y1="266.57" x2="136.46" y2="346.31" stroke="#c8c8c8" stroke-width="0.7"/>
<line x1="135.66" y1="266.57" x2="137.26" y2="266.57" stroke="#b0b0b0" stroke-width="0.7"/>
<line x1="135.66" y1="346.31" x2="137.26" y2="346.31" stroke="#b0b0b0" stroke-width="0.7"/>
<line x1="139.22" y1="267.17" x2="139.22" y2="344.39" stroke="#c8c8c8" stroke-width="0.7"/>
<line x1="138.42" y1="267.17" x2="140.02" y2="267.17" stroke="#b0b0b0" stroke-width="0.7"/>
<line x1="138.42" y1="344.39" x2="140.02" y2="344.39" stroke="#b0b0b0" stroke-width="0.7"/>
<line x1="141.98" y1="267.7" x2="141.98" y2="342.21" stroke="#c8c8c8" stroke-width="0.7"/>
<line x1="141.18" y1="267.7" x2="142.78" y2="267.7" stroke="#b0b0b0" stroke-width="0.7"/>
<line x1="141.18" y1="342.21" x2="142.78" y2="342.21" stroke="#b0b0b0" stroke-width="0.7"/>
<line x1="144.73" y1="267.49" x2="144.73" y2="340.18" stroke="#c8c8c8" stroke-width="0.7"/>
<line x1="143.93" y1="267.49" x2="145.53" y2="267.49" stroke="#b0b0b0" stroke-width="0.7"/>
<line x1="143.93" y1="340.18" x2="145.53" y2="340.18" stroke="#b0b0b0" stroke-width="0.7"/>
<line x1="147.49" y1="267.11" x2="147.49" y2="338.18" stroke="#c8c8c8" stroke-width="0.7"/>
<line x1="146.69" y1="267.11" x2="148.29" y2="267.11" stroke="#b0b0b0" stroke-width="0.7"/>
<line x1="146.69" y1="338.18" x2="148.29" y2="338.18" stroke="#b0b0b0" stroke-width="0.7"/>
<line x1="150.25" y1="266.12" x2="150.25" y2="335.57" stroke="#c8c8c8" stroke-width="0.7"/>
<line x1="149.45" y1="266.12" x2="151.05" y2="266.12" stroke="#b0b0b0" stroke-width="0.7"/>
<line x1="149.45" y1="335.57" x2="151.05" y2="335.57" stroke="#b0b0b0" stroke-width="0.7"/>
<line x1="153.01" y1="264.88" x2="153.01" y2="332.71" stroke="#c8c8c8" stroke-width="0.7"/>
<line x1="152.21" y1="264.88" x2="153.81" y2="264.88" stroke="#b0b0b0" stroke-width="0.7"/>
<line x1="152.21" y1="332.71" x2="153.81" y2="332.71" stroke="#b0b0b0" stroke-width="0.7"/>
<line x1="155.77" y1="264.23" x2="155.77" y2="331.45" stroke="#c8c8c8" stroke-width="0.7"/>
<line x1="154.97" y1="264.23" x2="156.57" y2="264.23" stroke="#b0b0b0" stroke-width="0.7"/>
<line x1="154.97" y1="331.45" x2="156.57" y2="331.45" stroke="#b0b0b0" stroke-width="0.7"/>
<line x1="158.53" y1="265.29" x2="158.53" y2="332.06" stroke="#c8c8c8" stroke-width="0.7"/>
<line x1="157.73" y1="265.29" x2="159.33" y2="265.29" stroke="#b0b0b0" stroke-width="0.7"/>
<line x1="157.73" y1="332.06" x2="159.33" y2="332.06" stroke="#b0b0b0" stroke-width="0.7"/>
<line x1="161.28" y1="266.43" x2="161.28" y2="332.76" stroke="#c8c8c8" stroke-width="0.7"/>
<line x1="160.48" y1="266.43" x2="162.08" y2="266.43" stroke="#b0b0b0" stroke-width="0.7"/>
<line x1="160.48" y1="332.76" x2="162.08" y2="332.76" stroke="#b0b0b0" stroke-width="0.7"/>
<line x1="164.04" y1="268.45" x2="164.04" y2="334.33" stroke="#c8c8c8" stroke-width="0.7"/>
<line x1="163.24" y1="268.45" x2="164.84" y2="268.45" stroke="#b0b0b0" stroke-width="0.7"/>
<line x1="163.24" y1="334.33" x2="164.84" y2="334.33" stroke="#b0b0b0" stroke-width="0.7"/>
<line x1="166.8" y1="270.58" x2="166.8" y2="336.01" stroke="#c8c8c8" stroke-width="0.7"/>
<line x1="166" y1="270.58" x2="167.6" y2="270.58" stroke="#b0b0b0" stroke-width="0.7"/>
<line x1="166" y1="336.01" x2="167.6" y2="336.01" stroke="#b0b0b0" stroke-width="0.7"/>
<circle cx="48.2" cy="275.3" r="1.05" fill="#ff0000"/>
<circle cx="50.96" cy="275.72" r="1.05" fill="#ff0000"/>
<circle cx="53.72" cy="276.14" r="1.05" fill="#ff0000"/>
<circle cx="56.47" cy="276.56" r="1.05" fill="#ff0000"/>
<circle cx="59.23" cy="276.98" r="1.05" fill="#ff0000"/>
<circle cx="61.99" cy="277.4" r="1.05" fill="#ff0000"/>
<circle cx="64.75" cy="278.02" r="1.05" fill="#ff0000"/>
<circle cx="67.51" cy="278.65" r="1.05" fill="#ff0000"/>
<circle cx="70.27" cy="279.28" r="1.05" fill="#ff0000"/>
<circle cx="73.02" cy="279.91" r="1.05" fill="#ff0000"/>
<circle cx="75.78" cy="280.58" r="1.05" fill="#ff0000"/>
<circle cx="78.54" cy="281.46" r="1.05" fill="#ff0000"/>
<circle cx="81.3" cy="282.33" r="1.05" fill="#ff0000"/>
<circle cx="84.06" cy="283.2" r="1.05" fill="#ff0000"/>
<circle cx="86.81" cy="284.08" r="1.05" fill="#ff0000"/>
<circle cx="89.57" cy="285.12" r="1.05" fill="#ff0000"/>
<circle cx="92.33" cy="286.2" r="1.05" fill="#ff0000"/>
<circle cx="95.09" cy="287.27" r="1.05" fill="#ff0000"/>
<circle cx="97.85" cy="288.34" r="1.05" fill="#ff0000"/>
<circle cx="100.6" cy="289.56" r="1.05" fill="#ff0000"/>
<circle cx="103.36" cy="290.78" r="1.05" fill="#ff0000"/>
<circle cx="106.12" cy="292.01" r="1.05" fill="#ff0000"/>
<circle cx="108.88" cy="293.24" r="1.05" fill="#ff0000"/>
<circle cx="111.64" cy="294.67" r="1.05" fill="#ff0000"/>
<circle cx="114.4" cy="296.09" r="1.05" fill="#ff0000"/>
<circle cx="117.15" cy="297.52" r="1.05" fill="#ff0000"/>
<circle cx="119.91" cy="299.21" r="1.05" fill="#ff0000"/>
<circle cx="122.67" cy="300.96" r="1.05" fill="#ff0000"/>
<circle cx="125.43" cy="302.71" r="1.05" fill="#ff0000"/>
<circle cx="128.19" cy="304.07" r="1.05" fill="#ff0000"/>
<circle cx="130.94" cy="305.42" r="1.05" fill="#ff0000"/>
<circle cx="133.7" cy="305.96" r="1.05" fill="#ff0000"/>
<circle cx="136.46" cy="306.44" r="1.05" fill="#ff0000"/>
<circle cx="139.22" cy="305.78" r="1.05" fill="#ff0000"/>
<circle cx="141.98" cy="304.96" r="1.05" fill="#ff0000"/>
<circle cx="144.73" cy="303.84" r="1.05" fill="#ff0000"/>
<circle cx="147.49" cy="302.65" r="1.05" fill="#ff0000"/>
<circle cx="150.25" cy="300.85" r="1.05" fill="#ff0000"/>
<circle cx="153.01" cy="298.79" r="1.05" fill="#ff0000"/>
<circle cx="155.77" cy="297.84" r="1.05" fill="#ff0000"/>
<circle cx="158.53" cy="298.68" r="1.05" fill="#ff0000"/>
<circle cx="161.28" cy="299.59" r="1.05" fill="#ff0000"/>
<circle cx="164.04" cy="301.39" r="1.05" fill="#ff0000"/>
<circle cx="166.8" cy="303.29" r="1.05" fill="#ff0000"/>
<line x1="136.6" y1="218.3" x2="136.6" y2="350.9" stroke="#777" stroke-width="0.8" stroke-dasharray="1,1"/>
<line x1="166.9" y1="218.3" x2="166.9" y2="350.9" stroke="#777" stroke-width="0.8" stroke-dasharray="1,1"/>
<rect x="43.4" y="218.3" width="128.3" height="132.6" fill="none" stroke="#555" stroke-width="1"/>
<line x1="43.4" y1="225.5" x2="39.4" y2="225.5" stroke="#555" stroke-width="0.8"/>
<line x1="43.4" y1="245.77" x2="39.4" y2="245.77" stroke="#555" stroke-width="0.8"/>
<line x1="43.4" y1="266.04" x2="39.4" y2="266.04" stroke="#555" stroke-width="0.8"/>
<line x1="43.4" y1="286.31" x2="39.4" y2="286.31" stroke="#555" stroke-width="0.8"/>
<line x1="43.4" y1="306.58" x2="39.4" y2="306.58" stroke="#555" stroke-width="0.8"/>
<line x1="43.4" y1="326.85" x2="39.4" y2="326.85" stroke="#555" stroke-width="0.8"/>
<line x1="43.4" y1="347.12" x2="39.4" y2="347.12" stroke="#555" stroke-width="0.8"/>
<text x="30.5" y="228.11" font-size="7.3" text-anchor="middle" fill="#222" font-family='"Liberation Sans", sans-serif' transform="rotate(-90 30.5 225.5)" stroke="#222" stroke-width="0.18">1.35</text>
<text x="30.5" y="268.65" font-size="7.3" text-anchor="middle" fill="#222" font-family='"Liberation Sans", sans-serif' transform="rotate(-90 30.5 266.04)" stroke="#222" stroke-width="0.18">1.33</text>
<text x="30.5" y="309.19" font-size="7.3" text-anchor="middle" fill="#222" font-family='"Liberation Sans", sans-serif' transform="rotate(-90 30.5 306.58)" stroke="#222" stroke-width="0.18">1.31</text>
<text x="30.5" y="349.73" font-size="7.3" text-anchor="middle" fill="#222" font-family='"Liberation Sans", sans-serif' transform="rotate(-90 30.5 347.12)" stroke="#222" stroke-width="0.18">1.29</text>
<line x1="52.5" y1="350.9" x2="52.5" y2="354.9" stroke="#555" stroke-width="0.8"/>
<text x="52.5" y="367.51" font-size="7.3" text-anchor="middle" fill="#222" font-family='"Liberation Sans", sans-serif' stroke="#222" stroke-width="0.18">-7</text>
<line x1="82.3" y1="350.9" x2="82.3" y2="354.9" stroke="#555" stroke-width="0.8"/>
<text x="82.3" y="367.51" font-size="7.3" text-anchor="middle" fill="#222" font-family='"Liberation Sans", sans-serif' stroke="#222" stroke-width="0.18">-6</text>
<line x1="112.1" y1="350.9" x2="112.1" y2="354.9" stroke="#555" stroke-width="0.8"/>
<text x="112.1" y="367.51" font-size="7.3" text-anchor="middle" fill="#222" font-family='"Liberation Sans", sans-serif' stroke="#222" stroke-width="0.18">-5</text>
<line x1="141.9" y1="350.9" x2="141.9" y2="354.9" stroke="#555" stroke-width="0.8"/>
<text x="141.9" y="367.51" font-size="7.3" text-anchor="middle" fill="#222" font-family='"Liberation Sans", sans-serif' stroke="#222" stroke-width="0.18">-4</text>
<line x1="171.7" y1="350.9" x2="171.7" y2="354.9" stroke="#555" stroke-width="0.8"/>
<text x="171.7" y="367.51" font-size="7.3" text-anchor="middle" fill="#222" font-family='"Liberation Sans", sans-serif' stroke="#222" stroke-width="0.18">-3</text>
<text x="48.4" y="207.68" font-size="7.2" text-anchor="middle" fill="#222" font-family='"Liberation Sans", sans-serif' stroke="#222" stroke-width="0.18">13</text>
<text x="65.5" y="207.68" font-size="7.2" text-anchor="middle" fill="#222" font-family='"Liberation Sans", sans-serif' stroke="#222" stroke-width="0.18">13</text>
<text x="81.8" y="207.68" font-size="7.2" text-anchor="middle" fill="#222" font-family='"Liberation Sans", sans-serif' stroke="#222" stroke-width="0.18">13</text>
<text x="97.5" y="207.68" font-size="7.2" text-anchor="middle" fill="#222" font-family='"Liberation Sans", sans-serif' stroke="#222" stroke-width="0.18">11</text>
<text x="114.5" y="207.68" font-size="7.2" text-anchor="middle" fill="#222" font-family='"Liberation Sans", sans-serif' stroke="#222" stroke-width="0.18">10</text>
<text x="127.6" y="207.68" font-size="7.2" text-anchor="middle" fill="#222" font-family='"Liberation Sans", sans-serif' stroke="#222" stroke-width="0.18">9</text>
<text x="138.7" y="207.68" font-size="7.2" text-anchor="middle" fill="#222" font-family='"Liberation Sans", sans-serif' stroke="#222" stroke-width="0.18">8</text>
<text x="150" y="207.68" font-size="7.2" text-anchor="middle" fill="#222" font-family='"Liberation Sans", sans-serif' stroke="#222" stroke-width="0.18">6</text>
<text x="160.8" y="207.68" font-size="7.2" text-anchor="middle" fill="#222" font-family='"Liberation Sans", sans-serif' stroke="#222" stroke-width="0.18">2</text>
<text x="107.3" y="384.19" font-size="7.5" text-anchor="middle" fill="#222" font-family='"Liberation Sans", sans-serif' stroke="#222" stroke-width="0.18">Log(λ)</text>
<text x="12.3" y="287.19" font-size="7.5" text-anchor="middle" fill="#222" font-family='"Liberation Sans", sans-serif' transform="rotate(-90 12.3 284.5)" stroke="#222" stroke-width="0.18">Binomial Deviance</text>
<text x="96.8" y="397.41" font-size="10.6" text-anchor="middle" fill="#111" font-family='"Liberation Serif", serif' font-weight="bold">(C)</text>
<line x1="246.2" y1="220.4" x2="505.8" y2="220.4" stroke="#3a3a3a" stroke-width="1.25"/>
<line x1="246.2" y1="235.9" x2="505.8" y2="235.9" stroke="#333" stroke-width="1.35"/>
<line x1="246.2" y1="360.4" x2="505.8" y2="360.4" stroke="#3a3a3a" stroke-width="1.3"/>
<text x="267.6" y="230.41" font-size="6.45" text-anchor="middle" fill="#1a1a1a" font-family='"Liberation Sans", sans-serif' stroke="#1a1a1a" stroke-width="0.18">Variable</text>
<text x="337.1" y="230.41" font-size="6.45" text-anchor="middle" fill="#1a1a1a" font-family='"Liberation Sans", sans-serif' stroke="#1a1a1a" stroke-width="0.18">HR(95%CI)</text>
<text x="490.2" y="230.41" font-size="6.45" text-anchor="middle" fill="#1a1a1a" font-family='"Liberation Sans", sans-serif' stroke="#1a1a1a" stroke-width="0.18">pvalue</text>
<line x1="413.4" y1="236" x2="413.4" y2="360.4" stroke="#222" stroke-width="1.35" stroke-dasharray="2.8,3.45"/>
<text x="267.6" y="245.81" font-size="6.45" text-anchor="middle" fill="#1a1a1a" font-family='"Liberation Sans", sans-serif' stroke="#1a1a1a" stroke-width="0.18">CAPZB</text>
<text x="337" y="245.81" font-size="6.45" text-anchor="middle" fill="#1a1a1a" font-family='"Liberation Sans", sans-serif' stroke="#1a1a1a" stroke-width="0.18">1.189(1.048~1.35)</text>
<text x="490" y="245.81" font-size="6.45" text-anchor="middle" fill="#1a1a1a" font-family='"Liberation Sans", sans-serif' stroke="#1a1a1a" stroke-width="0.18">0.007</text>
<line x1="416.61" y1="243.5" x2="437.45" y2="243.5" stroke="#2a2a2a" stroke-width="1.25"/>
<line x1="416.61" y1="241.9" x2="416.61" y2="245.1" stroke="#222" stroke-width="1.1"/>
<line x1="437.45" y1="241.9" x2="437.45" y2="245.1" stroke="#222" stroke-width="1.1"/>
<circle cx="426.34" cy="243.5" r="1.9" fill="#f1a9c3"/>
<text x="267.6" y="261.44" font-size="6.45" text-anchor="middle" fill="#1a1a1a" font-family='"Liberation Sans", sans-serif' stroke="#1a1a1a" stroke-width="0.18">DSTN</text>
<text x="337" y="261.44" font-size="6.45" text-anchor="middle" fill="#1a1a1a" font-family='"Liberation Sans", sans-serif' stroke="#1a1a1a" stroke-width="0.18">0.922(0.726~1.169)</text>
<text x="490" y="261.44" font-size="6.45" text-anchor="middle" fill="#1a1a1a" font-family='"Liberation Sans", sans-serif' stroke="#1a1a1a" stroke-width="0.18">0.502</text>
<line x1="394.39" y1="259.13" x2="424.96" y2="259.13" stroke="#2a2a2a" stroke-width="1.25"/>
<line x1="394.39" y1="257.53" x2="394.39" y2="260.73" stroke="#222" stroke-width="1.1"/>
<line x1="424.96" y1="257.53" x2="424.96" y2="260.73" stroke="#222" stroke-width="1.1"/>
<circle cx="407.92" cy="259.13" r="1.9" fill="#f1a9c3"/>
<text x="267.6" y="277.07" font-size="6.45" text-anchor="middle" fill="#1a1a1a" font-family='"Liberation Sans", sans-serif' stroke="#1a1a1a" stroke-width="0.18">GYS1</text>
<text x="337" y="277.07" font-size="6.45" text-anchor="middle" fill="#1a1a1a" font-family='"Liberation Sans", sans-serif' stroke="#1a1a1a" stroke-width="0.18">1.185(0.977~1.438)</text>
<text x="490" y="277.07" font-size="6.45" text-anchor="middle" fill="#1a1a1a" font-family='"Liberation Sans", sans-serif' stroke="#1a1a1a" stroke-width="0.18">0.085</text>
<line x1="411.71" y1="274.76" x2="443.52" y2="274.76" stroke="#2a2a2a" stroke-width="1.25"/>
<line x1="411.71" y1="273.16" x2="411.71" y2="276.36" stroke="#222" stroke-width="1.1"/>
<line x1="443.52" y1="273.16" x2="443.52" y2="276.36" stroke="#222" stroke-width="1.1"/>
<circle cx="426.06" cy="274.76" r="1.9" fill="#f1a9c3"/>
<text x="267.6" y="292.7" font-size="6.45" text-anchor="middle" fill="#1a1a1a" font-family='"Liberation Sans", sans-serif' stroke="#1a1a1a" stroke-width="0.18">IQGAP1</text>
<text x="337" y="292.7" font-size="6.45" text-anchor="middle" fill="#1a1a1a" font-family='"Liberation Sans", sans-serif' stroke="#1a1a1a" stroke-width="0.18">1.094(0.943~1.268)</text>
<text x="490" y="292.7" font-size="6.45" text-anchor="middle" fill="#1a1a1a" font-family='"Liberation Sans", sans-serif' stroke="#1a1a1a" stroke-width="0.18">0.236</text>
<line x1="409.37" y1="290.39" x2="431.79" y2="290.39" stroke="#2a2a2a" stroke-width="1.25"/>
<line x1="409.37" y1="288.79" x2="409.37" y2="291.99" stroke="#222" stroke-width="1.1"/>
<line x1="431.79" y1="288.79" x2="431.79" y2="291.99" stroke="#222" stroke-width="1.1"/>
<circle cx="419.79" cy="290.39" r="1.9" fill="#f1a9c3"/>
<text x="267.6" y="308.33" font-size="6.45" text-anchor="middle" fill="#1a1a1a" font-family='"Liberation Sans", sans-serif' stroke="#1a1a1a" stroke-width="0.18">MYH9</text>
<text x="337" y="308.33" font-size="6.45" text-anchor="middle" fill="#1a1a1a" font-family='"Liberation Sans", sans-serif' stroke="#1a1a1a" stroke-width="0.18">0.752(0.639~0.886)</text>
<text x="490" y="308.33" font-size="6.45" text-anchor="middle" fill="#1a1a1a" font-family='"Liberation Sans", sans-serif' stroke="#1a1a1a" stroke-width="0.18">0.001</text>
<line x1="388.39" y1="306.02" x2="405.43" y2="306.02" stroke="#2a2a2a" stroke-width="1.25"/>
<line x1="388.39" y1="304.42" x2="388.39" y2="307.62" stroke="#222" stroke-width="1.1"/>
<line x1="405.43" y1="304.42" x2="405.43" y2="307.62" stroke="#222" stroke-width="1.1"/>
<circle cx="396.19" cy="306.02" r="1.9" fill="#f1a9c3"/>
<text x="267.6" y="323.96" font-size="6.45" text-anchor="middle" fill="#1a1a1a" font-family='"Liberation Sans", sans-serif' stroke="#1a1a1a" stroke-width="0.18">NDUFA11</text>
<text x="337" y="323.96" font-size="6.45" text-anchor="middle" fill="#1a1a1a" font-family='"Liberation Sans", sans-serif' stroke="#1a1a1a" stroke-width="0.18">1.1(0.987~1.225)</text>
<text x="490" y="323.96" font-size="6.45" text-anchor="middle" fill="#1a1a1a" font-family='"Liberation Sans", sans-serif' stroke="#1a1a1a" stroke-width="0.18">0.084</text>
<line x1="412.4" y1="321.65" x2="428.83" y2="321.65" stroke="#2a2a2a" stroke-width="1.25"/>
<line x1="412.4" y1="320.05" x2="412.4" y2="323.25" stroke="#222" stroke-width="1.1"/>
<line x1="428.83" y1="320.05" x2="428.83" y2="323.25" stroke="#222" stroke-width="1.1"/>
<circle cx="420.2" cy="321.65" r="1.9" fill="#f1a9c3"/>
<text x="267.6" y="339.59" font-size="6.45" text-anchor="middle" fill="#1a1a1a" font-family='"Liberation Sans", sans-serif' stroke="#1a1a1a" stroke-width="0.18">NDUFS1</text>
<text x="337" y="339.59" font-size="6.45" text-anchor="middle" fill="#1a1a1a" font-family='"Liberation Sans", sans-serif' stroke="#1a1a1a" stroke-width="0.18">0.992(0.812~1.211)</text>
<text x="490" y="339.59" font-size="6.45" text-anchor="middle" fill="#1a1a1a" font-family='"Liberation Sans", sans-serif' stroke="#1a1a1a" stroke-width="0.18">0.934</text>
<line x1="400.33" y1="337.28" x2="427.86" y2="337.28" stroke="#2a2a2a" stroke-width="1.25"/>
<line x1="400.33" y1="335.68" x2="400.33" y2="338.88" stroke="#222" stroke-width="1.1"/>
<line x1="427.86" y1="335.68" x2="427.86" y2="338.88" stroke="#222" stroke-width="1.1"/>
<circle cx="412.75" cy="337.28" r="1.9" fill="#f1a9c3"/>
<text x="267.6" y="355.22" font-size="6.45" text-anchor="middle" fill="#1a1a1a" font-family='"Liberation Sans", sans-serif' stroke="#1a1a1a" stroke-width="0.18">OXSM</text>
<text x="337" y="355.22" font-size="6.45" text-anchor="middle" fill="#1a1a1a" font-family='"Liberation Sans", sans-serif' stroke="#1a1a1a" stroke-width="0.18">1.444(1.143~1.824)</text>
<text x="490" y="355.22" font-size="6.45" text-anchor="middle" fill="#1a1a1a" font-family='"Liberation Sans", sans-serif' stroke="#1a1a1a" stroke-width="0.18">0.002</text>
<line x1="423.17" y1="352.91" x2="470.16" y2="352.91" stroke="#2a2a2a" stroke-width="1.25"/>
<line x1="423.17" y1="351.31" x2="423.17" y2="354.51" stroke="#222" stroke-width="1.1"/>
<line x1="470.16" y1="351.31" x2="470.16" y2="354.51" stroke="#222" stroke-width="1.1"/>
<circle cx="443.94" cy="352.91" r="1.9" fill="#f1a9c3"/>
<line x1="413.3" y1="360.4" x2="413.3" y2="363.2" stroke="#333" stroke-width="0.9"/>
<text x="413.3" y="367.59" font-size="5" text-anchor="middle" fill="#444" font-family='"Liberation Sans", sans-serif' stroke="#444" stroke-width="0.1">1.0</text>
<line x1="447.8" y1="360.4" x2="447.8" y2="363.2" stroke="#333" stroke-width="0.9"/>
<text x="447.8" y="367.59" font-size="5" text-anchor="middle" fill="#444" font-family='"Liberation Sans", sans-serif' stroke="#444" stroke-width="0.1">1.5</text>
<text x="375.9" y="398.31" font-size="10.6" text-anchor="middle" fill="#111" font-family='"Liberation Serif", serif' font-weight="bold">(D)</text>
<path d="M59.3,406.6 L60.6,406.53 L61.91,406.45 L63.21,406.38 L64.52,406.31 L65.82,406.23 L67.12,406.16 L68.43,406.08 L69.73,406.01 L71.03,406.11 L72.34,406.26 L73.64,406.41 L74.94,406.56 L76.25,406.81 L77.55,407.06 L78.86,407.31 L80.16,407.57 L81.46,407.85 L82.77,408.13 L84.07,408.41 L85.38,408.77 L86.68,409.34 L87.98,409.9 L89.29,410.47 L90.59,411.07 L91.89,411.71 L93.2,412.36 L94.5,413 L95.81,413.52 L97.11,413.95 L98.41,414.39 L99.72,414.82 L101.02,415.34 L102.32,415.88 L103.63,416.42 L104.93,416.96 L106.23,417.82 L107.54,418.7 L108.84,419.58 L110.15,420.49 L111.45,421.69 L112.75,422.88 L114.06,424.07 L115.36,425.17 L116.66,426.02 L117.97,426.87 L119.27,427.73 L120.58,428.55 L121.88,429.36 L123.18,430.16 L124.49,430.96 L125.79,431.79 L127.09,432.64 L128.4,433.49 L129.7,434.35 L131.01,435.2 L132.31,436.05 L133.61,436.91 L134.92,437.76 L136.22,438.64 L137.52,439.51 L138.83,440.39 L140.13,441.33 L141.44,442.81 L142.74,444.29 L144.04,445.77 L145.35,447.8 L146.65,451.19 L147.95,452.96 L149.26,454.13 L150.56,455.26 L151.87,456.33 L153.17,457.4 L154.47,458.47 L155.78,459.58 L157.08,460.73 L158.38,461.88 L159.69,463.03 L160.99,463.88 L162.3,464.64 L163.6,465.4 L163.6,477.8 L162.3,477.04 L160.99,476.28 L159.69,475.43 L158.38,474.28 L157.08,473.13 L155.78,471.98 L154.47,470.87 L153.17,469.8 L151.87,468.73 L150.56,467.66 L149.26,466.53 L147.95,465.36 L146.65,463.59 L145.35,460.2 L144.04,458.14 L142.74,456.49 L141.44,454.83 L140.13,453.18 L138.83,452.07 L137.52,451.02 L136.22,449.97 L134.92,448.92 L133.61,447.9 L132.31,446.87 L131.01,445.85 L129.7,444.82 L128.4,443.8 L127.09,442.77 L125.79,441.75 L124.49,440.75 L123.18,439.77 L121.88,438.8 L120.58,437.83 L119.27,436.83 L117.97,435.8 L116.66,434.78 L115.36,433.75 L114.06,432.48 L112.75,431.12 L111.45,429.76 L110.15,428.39 L108.84,427.31 L107.54,426.26 L106.23,425.21 L104.93,424.17 L103.63,423.46 L102.32,422.75 L101.02,422.04 L99.72,421.35 L98.41,420.74 L97.11,420.13 L95.81,419.53 L94.5,418.84 L93.2,418.02 L91.89,417.21 L90.59,416.39 L89.29,415.62 L87.98,414.88 L86.68,414.14 L85.38,413.41 L84.07,412.87 L82.77,412.42 L81.46,411.97 L80.16,411.52 L78.86,411.09 L77.55,410.67 L76.25,410.24 L74.94,409.82 L73.64,409.5 L72.34,409.18 L71.03,408.86 L69.73,408.58 L68.43,408.49 L67.12,408.39 L65.82,408.29 L64.52,408.19 L63.21,408.09 L61.91,408 L60.6,407.9 L59.3,407.8Z" fill="#a6cfe6" fill-opacity="0.25"/>
<path d="M59.3,406.6 L60.6,406.66 L61.91,406.71 L63.21,406.77 L64.52,406.83 L65.82,406.93 L67.12,407.06 L68.43,407.19 L69.73,407.32 L71.03,407.57 L72.34,407.85 L73.64,408.14 L74.94,408.43 L76.25,408.81 L77.55,409.2 L78.86,409.59 L80.16,410.01 L81.46,410.63 L82.77,411.26 L84.07,411.88 L85.38,412.54 L86.68,413.3 L87.98,414.05 L89.29,414.8 L90.59,415.66 L91.89,416.65 L93.2,417.64 L94.5,418.63 L95.81,419.85 L97.11,421.2 L98.41,422.55 L99.72,423.91 L101.02,425.61 L102.32,427.41 L103.63,429.2 L104.93,431 L106.23,433.49 L107.54,436.02 L108.84,438.55 L110.15,441.12 L111.45,444.09 L112.75,447.07 L114.06,450.04 L115.36,452.59 L116.66,454.05 L117.97,455.5 L119.27,456.96 L120.58,458.26 L121.88,459.35 L123.18,460.45 L124.49,461.54 L125.79,462.62 L127.09,463.69 L128.4,464.75 L129.7,465.82 L131.01,466.77 L132.31,467.68 L133.61,468.59 L134.92,469.54 L136.22,471.07 L137.52,472.63 L138.83,474.19 L140.13,475.74 L141.44,477.09 L142.74,478.45 L144.04,479.81 L145.35,481.06 L146.65,482.02 L147.95,482.99 L149.26,483.95 L150.56,484.76 L151.87,485.36 L153.17,485.96 L154.47,486.56 L155.78,487.11 L157.08,487.63 L158.38,488.15 L159.69,488.68 L160.99,489.27 L162.3,489.88 L163.6,490.5 L163.6,500.9 L162.3,500.28 L160.99,499.67 L159.69,499.08 L158.38,498.55 L157.08,498.03 L155.78,497.51 L154.47,496.96 L153.17,496.36 L151.87,495.76 L150.56,495.16 L149.26,494.35 L147.95,493.39 L146.65,492.42 L145.35,491.46 L144.04,490.21 L142.74,488.85 L141.44,487.49 L140.13,486.14 L138.83,484.59 L137.52,483.03 L136.22,481.47 L134.92,479.94 L133.61,478.9 L132.31,477.83 L131.01,476.76 L129.7,475.66 L128.4,474.43 L127.09,473.2 L125.79,471.97 L124.49,470.74 L123.18,469.48 L121.88,468.23 L120.58,466.98 L119.27,465.52 L117.97,463.9 L116.66,462.28 L115.36,460.66 L114.06,457.95 L112.75,454.82 L111.45,451.69 L110.15,448.56 L108.84,445.82 L107.54,443.14 L106.23,440.45 L104.93,437.8 L103.63,435.84 L102.32,433.88 L101.02,431.93 L99.72,430.07 L98.41,428.55 L97.11,427.04 L95.81,425.52 L94.5,424.15 L93.2,423 L91.89,421.85 L90.59,420.7 L89.29,419.68 L87.98,418.77 L86.68,417.85 L85.38,416.94 L84.07,416.12 L82.77,415.33 L81.46,414.55 L80.16,413.77 L78.86,413.19 L77.55,412.64 L76.25,412.09 L74.94,411.54 L73.64,411.1 L72.34,410.65 L71.03,410.21 L69.73,409.8 L68.43,409.51 L67.12,409.22 L65.82,408.93 L64.52,408.67 L63.21,408.45 L61.91,408.23 L60.6,408.02 L59.3,407.8Z" fill="#ee6595" fill-opacity="0.25"/>
<polyline points="59.3,406.95 59.79,406.95 59.79,407.57 60.5,407.57 60.5,407.19 60.67,407.19 60.67,407.5 60.67,407.5 60.67,407.06 61.39,407.06 61.39,406.92 61.61,406.92 61.61,407.26 62.11,407.26 62.11,407.54 62.53,407.54 62.53,406.9 62.57,406.9 62.57,407.52 63.73,407.52 63.73,407.66 63.91,407.66 63.91,407.55 63.99,407.55 63.99,407.57 64,407.57 64,406.75 65.57,406.75 65.57,407.39 65.62,407.39 65.62,407.62 65.92,407.62 65.92,406.81 65.98,406.81 65.98,407.03 66.13,407.03 66.13,407.03 66.4,407.03 66.4,407.29 67.33,407.29 67.33,407.2 68.53,407.2 68.53,407.26 69.46,407.26 69.46,407.57 69.92,407.57 69.92,406.8 71.91,406.8 71.91,407.2 72.83,407.2 72.83,407.44 73.48,407.44 73.48,407.55 75.01,407.55 75.01,407.77 75.02,407.77 75.02,408.68 75.57,408.68 75.57,408.7 75.59,408.7 75.59,407.94 76.31,407.94 76.31,408.54 76.96,408.54 76.96,408.52 77.22,408.52 77.22,408.59 78.45,408.59 78.45,408.95 78.85,408.95 78.85,409.35 79.2,409.35 79.2,409.38 79.89,409.38 79.89,409.33 81.32,409.33 81.32,409.56 81.93,409.56 81.93,409.87 82.46,409.87 82.46,409.81 82.51,409.81 82.51,410.26 82.77,410.26 82.77,410.49 83.02,410.49 83.02,410.23 83.74,410.23 83.74,410.13 84.09,410.13 84.09,410.32 84.12,410.32 84.12,410.53 84.2,410.53 84.2,410.78 85.49,410.78 85.49,411.43 86.35,411.43 86.35,411.46 87.58,411.46 87.58,412.49 88.36,412.49 88.36,412.7 89.02,412.7 89.02,412.84 89.24,412.84 89.24,412.89 89.45,412.89 89.45,413.12 89.75,413.12 89.75,413.48 89.95,413.48 89.95,413.3 90.58,413.3 90.58,413.92 90.63,413.92 90.63,413.71 90.7,413.71 90.7,413.54 90.7,413.54 90.7,413.83 90.72,413.83 90.72,414 91.6,414 91.6,413.87 91.63,413.87 91.63,414.24 91.91,414.24 91.91,414.4 92.03,414.4 92.03,414.92 92.68,414.92 92.68,415.34 92.88,415.34 92.88,414.89 93.82,414.89 93.82,415.94 94.11,415.94 94.11,415.99 94.42,415.99 94.42,415.64 94.87,415.64 94.87,416.09 94.9,416.09 94.9,415.77 95.31,415.77 95.31,416.64 95.42,416.64 95.42,416.53 95.9,416.53 95.9,416.95 96.07,416.95 96.07,416.92 97.26,416.92 97.26,417.27 97.8,417.27 97.8,417.55 97.89,417.55 97.89,417.42 98.64,417.42 98.64,417.26 98.7,417.26 98.7,417.77 99.55,417.77 99.55,417.52 100.49,417.52 100.49,418.08 101.85,418.08 101.85,419.36 102.01,419.36 102.01,418.71 102.11,418.71 102.11,418.81 102.45,418.81 102.45,418.98 102.61,418.98 102.61,419.83 102.78,419.83 102.78,419.22 103.08,419.22 103.08,419.2 104.27,419.2 104.27,420.59 104.6,420.59 104.6,420.03 104.69,420.03 104.69,420.8 104.79,420.8 104.79,420.67 105.03,420.67 105.03,420.96 105.67,420.96 105.67,421.55 106.35,421.55 106.35,421.68 106.89,421.68 106.89,422.3 107.32,422.3 107.32,421.85 107.93,421.85 107.93,423.04 108.35,423.04 108.35,423.09 108.61,423.09 108.61,423.48 108.98,423.48 108.98,423.15 112.02,423.15 112.02,426.52 112.18,426.52 112.18,426.87 112.21,426.87 112.21,426.02 113.43,426.02 113.43,427.49 113.54,427.49 113.54,427.84 113.65,427.84 113.65,428.21 113.87,428.21 113.87,427.83 114.05,427.83 114.05,427.95 114.54,427.95 114.54,428.5 116.06,428.5 116.06,430.08 116.5,430.08 116.5,430.53 117.63,430.53 117.63,430.99 118.66,430.99 118.66,431.7 118.67,431.7 118.67,431.74 119.12,431.74 119.12,432.02 119.48,432.02 119.48,432.34 119.79,432.34 119.79,432.23 120.24,432.23 120.24,432.96 120.32,432.96 120.32,433.49 120.7,433.49 120.7,433.19 120.95,433.19 120.95,433.69 121.12,433.69 121.12,433.22 121.42,433.22 121.42,433.96 121.43,433.96 121.43,434.03 121.86,434.03 121.86,434.24 122.29,434.24 122.29,434.37 122.97,434.37 122.97,434.8 123.15,434.8 123.15,435.08 123.4,435.08 123.4,435.51 123.53,435.51 123.53,434.85 123.98,434.85 123.98,435.1 124.56,435.1 124.56,436.15 124.66,436.15 124.66,436.39 124.73,436.39 124.73,436.03 125.24,436.03 125.24,436.31 125.52,436.31 125.52,436.79 125.95,436.79 125.95,436.57 126.25,436.57 126.25,436.87 126.46,436.87 126.46,436.95 127.12,436.95 127.12,437.81 128.44,437.81 128.44,438.49 128.45,438.49 128.45,438.42 129.31,438.42 129.31,439.5 129.33,439.5 129.33,439.77 129.81,439.77 129.81,439.46 130.15,439.46 130.15,440.11 130.43,440.11 130.43,440.02 131.65,440.02 131.65,441.34 132.11,441.34 132.11,441.4 133.03,441.4 133.03,441.75 133.75,441.75 133.75,442.22 133.78,442.22 133.78,442.05 134.23,442.05 134.23,442.83 134.27,442.83 134.27,442.76 134.43,442.76 134.43,442.66 135.98,442.66 135.98,443.98 136.28,443.98 136.28,444.17 136.61,444.17 136.61,444.87 137.03,444.87 137.03,444.55 137.06,444.55 137.06,445.41 138.38,445.41 138.38,445.88 139.48,445.88 139.48,446.82 139.85,446.82 139.85,446.96 142.1,446.96 142.1,449.95 142.8,449.95 142.8,450.78 142.83,450.78 142.83,450.56 143.14,450.56 143.14,450.85 143.39,450.85 143.39,451.39 143.45,451.39 143.45,451.59 143.49,451.59 143.49,451.19 143.8,451.19 143.8,451.9 146.04,451.9 146.04,456.26 146.24,456.26 146.24,456.29 146.54,456.29 146.54,456.84 146.57,456.84 146.57,456.91 146.65,456.91 146.65,457.6 146.75,457.6 146.75,457.83 148.37,457.83 148.37,459.99 148.53,459.99 148.53,460.03 148.62,460.03 148.62,459.5 149.06,459.5 149.06,459.85 149.57,459.85 149.57,460.38 149.81,460.38 149.81,460.52 149.84,460.52 149.84,461.06 150.33,461.06 150.33,461.63 150.96,461.63 150.96,462.19 150.97,462.19 150.97,461.55 151.08,461.55 151.08,462.25 151.18,462.25 151.18,461.78 151.59,461.78 151.59,462.23 152.81,462.23 152.81,463.53 152.82,463.53 152.82,462.9 153.14,462.9 153.14,463.16 153.55,463.16 153.55,464.24 153.61,464.24 153.61,463.75 153.66,463.75 153.66,463.86 155.32,463.86 155.32,465.46 155.37,465.46 155.37,465.6 155.66,465.6 155.66,465.19 156.03,465.19 156.03,465.84 156.19,465.84 156.19,466.08 156.88,466.08 156.88,466.74 157.24,466.74 157.24,466.78 157.41,466.78 157.41,467.3 157.68,467.3 157.68,467.92 158.4,467.92 158.4,467.98 159.29,467.98 159.29,468.92 159.77,468.92 159.77,468.92 159.91,468.92 159.91,469.2 160,469.2 160,469.67 161.28,469.67 161.28,469.86 161.58,469.86 161.58,470.81 162.24,470.81 162.24,471.21 162.54,471.21 162.54,470.58 162.66,470.58 162.66,471.49 163.15,471.49 163.15,471.21 163.44,471.21 163.44,471.78 163.6,471.78 163.6,471.86" fill="none" stroke="#a6cfe6" stroke-width="1.5" stroke-linejoin="miter"/>
<polyline points="59.3,407.33 59.37,407.33 59.37,407.6 59.4,407.6 59.4,407.09 59.49,407.09 59.49,407.15 59.65,407.15 59.65,406.96 60.25,406.96 60.25,407.09 60.51,407.09 60.51,407.8 60.67,407.8 60.67,407.22 61.18,407.22 61.18,407.86 61.68,407.86 61.68,407.86 62.18,407.86 62.18,407.6 62.33,407.6 62.33,407.28 62.71,407.28 62.71,408.04 63.02,408.04 63.02,407.59 63.06,407.59 63.06,407.51 63.12,407.51 63.12,407.42 63.67,407.42 63.67,408.14 64.17,408.14 64.17,407.7 64.36,407.7 64.36,407.52 64.95,407.52 64.95,407.77 65.11,407.77 65.11,407.44 65.25,407.44 65.25,407.96 66.09,407.96 66.09,407.92 67.46,407.92 67.46,407.99 68.6,407.99 68.6,408.66 68.81,408.66 68.81,408.74 69.19,408.74 69.19,407.98 70.42,407.98 70.42,408.75 70.56,408.75 70.56,408.53 70.57,408.53 70.57,409.19 71.11,409.19 71.11,409.19 71.3,409.19 71.3,408.71 72.51,408.71 72.51,409.07 72.92,409.07 72.92,409.07 73.23,409.07 73.23,409.99 73.77,409.99 73.77,409.45 73.98,409.45 73.98,409.82 74.12,409.82 74.12,409.73 74.5,409.73 74.5,410 74.58,410 74.58,409.99 74.83,409.99 74.83,410.2 74.87,410.2 74.87,409.58 75.95,409.58 75.95,410.6 75.99,410.6 75.99,410.16 76.15,410.16 76.15,410.45 76.61,410.45 76.61,410.42 76.63,410.42 76.63,410.38 77.22,410.38 77.22,410.83 77.81,410.83 77.81,410.98 78.17,410.98 78.17,411 78.24,411 78.24,411.41 79.47,411.41 79.47,411.7 79.8,411.7 79.8,411.26 80.66,411.26 80.66,411.91 81.15,411.91 81.15,412.37 81.77,412.37 81.77,413.17 81.9,413.17 81.9,413.22 82.15,413.22 82.15,413 82.9,413 82.9,412.88 84.05,412.88 84.05,414.27 84.11,414.27 84.11,413.95 85.02,413.95 85.02,414.59 85.45,414.59 85.45,414.99 87.7,414.99 87.7,416.36 88.35,416.36 88.35,416.63 88.45,416.63 88.45,417.12 88.59,417.12 88.59,416.68 89.47,416.68 89.47,417.26 89.65,417.26 89.65,417.83 89.95,417.83 89.95,417.36 90.05,417.36 90.05,417.54 90.46,417.54 90.46,418.41 90.73,418.41 90.73,417.87 91.63,417.87 91.63,419.37 91.89,419.37 91.89,419.44 92.24,419.44 92.24,419.47 92.34,419.47 92.34,419.41 92.4,419.41 92.4,419.95 94.54,419.95 94.54,421.84 94.6,421.84 94.6,421.12 94.7,421.12 94.7,421.53 94.76,421.53 94.76,421.65 94.84,421.65 94.84,421.67 95.22,421.67 95.22,421.87 95.58,421.87 95.58,422.1 95.81,422.1 95.81,422.78 95.92,422.78 95.92,423.13 96.3,423.13 96.3,422.8 96.97,422.8 96.97,423.7 96.99,423.7 96.99,424.3 97.21,424.3 97.21,424.52 97.49,424.52 97.49,424.71 97.83,424.71 97.83,424.44 98.3,424.44 98.3,425.65 98.62,425.65 98.62,426.26 98.97,426.26 98.97,426.66 101.42,426.66 101.42,429.54 101.58,429.54 101.58,429.13 101.63,429.13 101.63,430 102.07,430 102.07,430 103.01,430 103.01,431.78 103.19,431.78 103.19,432.34 103.29,432.34 103.29,432.25 104.62,432.25 104.62,433.59 105.3,433.59 105.3,434.9 106.56,434.9 106.56,438.05 106.6,438.05 106.6,437.36 106.83,437.36 106.83,438.26 107.58,438.26 107.58,439.58 107.83,439.58 107.83,439.83 107.86,439.83 107.86,440.35 108.22,440.35 108.22,440.49 108.49,440.49 108.49,441.08 109.08,441.08 109.08,442.53 109.26,442.53 109.26,442.6 109.44,442.6 109.44,442.94 109.49,442.94 109.49,443.56 109.96,443.56 109.96,444.66 110.21,444.66 110.21,445.38 110.78,445.38 110.78,445.96 111.38,445.96 111.38,447.66 113.34,447.66 113.34,452.13 114.03,452.13 114.03,454.02 114.51,454.02 114.51,455.04 114.95,455.04 114.95,456.52 115.54,456.52 115.54,456.71 116.01,456.71 116.01,456.95 116.16,456.95 116.16,457.76 116.17,457.76 116.17,457.23 116.35,457.23 116.35,457.93 118.11,457.93 118.11,459.88 118.31,459.88 118.31,460.52 119.16,460.52 119.16,461.17 119.64,461.17 119.64,461.8 119.86,461.8 119.86,461.7 119.88,461.7 119.88,462.01 119.89,462.01 119.89,461.72 120.85,461.72 120.85,463.12 121.25,463.12 121.25,463.24 121.46,463.24 121.46,463.04 122.2,463.04 122.2,463.82 122.78,463.82 122.78,464.47 123.01,464.47 123.01,465.05 123.11,465.05 123.11,464.58 123.29,464.58 123.29,465.28 123.46,465.28 123.46,465.37 123.7,465.37 123.7,465.02 124.27,465.02 124.27,466.11 124.36,466.11 124.36,465.61 124.69,465.61 124.69,465.95 125.05,465.95 125.05,466.74 125.1,466.74 125.1,466.43 125.73,466.43 125.73,467.62 126.29,467.62 126.29,467.72 126.48,467.72 126.48,467.72 126.83,467.72 126.83,468.5 126.99,468.5 126.99,467.88 127.06,467.88 127.06,468.64 127.11,468.64 127.11,468.01 128.56,468.01 128.56,469.38 128.72,469.38 128.72,470.32 129.35,470.32 129.35,470.61 130,470.61 130,470.72 130.01,470.72 130.01,470.62 130.85,470.62 130.85,472.12 131.09,472.12 131.09,472 131.18,472 131.18,472.22 131.33,472.22 131.33,471.65 131.36,471.65 131.36,472.16 131.42,472.16 131.42,471.93 131.75,471.93 131.75,472.06 132.78,472.06 132.78,472.94 132.8,472.94 132.8,473.24 134.36,473.24 134.36,474.16 134.44,474.16 134.44,474.26 135.39,474.26 135.39,474.9 135.48,474.9 135.48,475.7 135.61,475.7 135.61,475.68 136.26,475.68 136.26,476.61 136.47,476.61 136.47,476.5 136.67,476.5 136.67,477.15 137.36,477.15 137.36,477.65 137.5,477.65 137.5,477.9 138.12,477.9 138.12,478.62 138.53,478.62 138.53,479.28 139.17,479.28 139.17,479.69 139.58,479.69 139.58,479.9 140.1,479.9 140.1,480.44 140.12,480.44 140.12,480.63 140.2,480.63 140.2,480.54 140.69,480.54 140.69,481.91 140.86,481.91 140.86,481.68 141.28,481.68 141.28,482.39 141.46,482.39 141.46,481.82 141.49,481.82 141.49,482.32 142.24,482.32 142.24,483.52 142.44,483.52 142.44,483.46 142.45,483.46 142.45,483.28 142.49,483.28 142.49,483.36 144.09,483.36 144.09,484.66 144.48,484.66 144.48,485.11 144.67,485.11 144.67,485.32 144.67,485.32 144.67,485.53 145.48,485.53 145.48,486.24 145.68,486.24 145.68,486.88 146.01,486.88 146.01,486.4 146.56,486.4 146.56,486.91 146.75,486.91 146.75,487.07 147.21,487.07 147.21,487.3 147.41,487.3 147.41,487.57 147.42,487.57 147.42,487.53 148.19,487.53 148.19,488.34 148.97,488.34 148.97,488.47 149.77,488.47 149.77,489.95 150.03,489.95 150.03,489.58 150.19,489.58 150.19,490.22 150.29,490.22 150.29,490.02 152.49,490.02 152.49,491.02 152.52,491.02 152.52,490.83 153.26,490.83 153.26,491.65 153.5,491.65 153.5,490.93 154.85,490.93 154.85,492.1 154.87,492.1 154.87,491.73 155.06,491.73 155.06,492.2 155.5,492.2 155.5,492.43 155.69,492.43 155.69,491.94 156.26,491.94 156.26,492.21 157.07,492.21 157.07,492.35 157.44,492.35 157.44,492.71 157.56,492.71 157.56,492.6 157.6,492.6 157.6,492.94 157.69,492.94 157.69,493.55 157.92,493.55 157.92,493.03 157.95,493.03 157.95,492.99 158.36,492.99 158.36,493.31 158.93,493.31 158.93,493.35 159.06,493.35 159.06,493.86 159.14,493.86 159.14,493.87 159.25,493.87 159.25,493.36 159.41,493.36 159.41,493.5 159.58,493.5 159.58,494.01 160.11,494.01 160.11,494.49 160.26,494.49 160.26,494.27 161,494.27 161,494.4 161.1,494.4 161.1,494.99 161.11,494.99 161.11,494.03 161.77,494.03 161.77,494.4 162.21,494.4 162.21,495.32 162.39,495.32 162.39,495.04 163.26,495.04 163.26,495.08 163.53,495.08 163.53,495.71 163.6,495.71 163.6,496.19" fill="none" stroke="#ee6595" stroke-width="1.45" stroke-linejoin="miter"/>
<line x1="58.5" y1="404" x2="58.5" y2="501.6" stroke="#222" stroke-width="1.1"/>
<line x1="58.5" y1="501.6" x2="166.4" y2="501.6" stroke="#222" stroke-width="1.1"/>
<line x1="56" y1="407.3" x2="58.5" y2="407.3" stroke="#222" stroke-width="1"/>
<text x="54.2" y="409.73" font-size="6.8" text-anchor="end" fill="#333" font-family='"Liberation Sans", sans-serif' stroke="#333" stroke-width="0.08">1.00</text>
<line x1="56" y1="431.5" x2="58.5" y2="431.5" stroke="#222" stroke-width="1"/>
<text x="54.2" y="433.93" font-size="6.8" text-anchor="end" fill="#333" font-family='"Liberation Sans", sans-serif' stroke="#333" stroke-width="0.08">0.75</text>
<line x1="56" y1="455.7" x2="58.5" y2="455.7" stroke="#222" stroke-width="1"/>
<text x="54.2" y="458.13" font-size="6.8" text-anchor="end" fill="#333" font-family='"Liberation Sans", sans-serif' stroke="#333" stroke-width="0.08">0.50</text>
<line x1="56" y1="479.9" x2="58.5" y2="479.9" stroke="#222" stroke-width="1"/>
<text x="54.2" y="482.33" font-size="6.8" text-anchor="end" fill="#333" font-family='"Liberation Sans", sans-serif' stroke="#333" stroke-width="0.08">0.25</text>
<line x1="60.7" y1="501.6" x2="60.7" y2="504" stroke="#222" stroke-width="1"/>
<text x="60.7" y="512.84" font-size="7.1" text-anchor="middle" fill="#333" font-family='"Liberation Sans", sans-serif' stroke="#333" stroke-width="0.08">0</text>
<line x1="94.2" y1="501.6" x2="94.2" y2="504" stroke="#222" stroke-width="1"/>
<text x="94.2" y="512.84" font-size="7.1" text-anchor="middle" fill="#333" font-family='"Liberation Sans", sans-serif' stroke="#333" stroke-width="0.08">2</text>
<line x1="127.7" y1="501.6" x2="127.7" y2="504" stroke="#222" stroke-width="1"/>
<text x="127.7" y="512.84" font-size="7.1" text-anchor="middle" fill="#333" font-family='"Liberation Sans", sans-serif' stroke="#333" stroke-width="0.08">4</text>
<line x1="161.2" y1="501.6" x2="161.2" y2="504" stroke="#222" stroke-width="1"/>
<text x="161.2" y="512.84" font-size="7.1" text-anchor="middle" fill="#333" font-family='"Liberation Sans", sans-serif' stroke="#333" stroke-width="0.08">6</text>
<text x="113" y="521.53" font-size="7.9" text-anchor="middle" fill="#222" font-family='"Liberation Sans", sans-serif' stroke="#222" stroke-width="0.08">Time</text>
<text x="33.8" y="456.06" font-size="7.7" text-anchor="middle" fill="#222" font-family='"Liberation Sans", sans-serif' transform="rotate(-90 33.8 453.3)" stroke="#222" stroke-width="0.08">Survival probability</text>
<line x1="129.3" y1="412.8" x2="136.3" y2="412.8" stroke="#c3dded" stroke-width="1.3"/>
<line x1="129.3" y1="420.4" x2="136.3" y2="420.4" stroke="#f4a0bf" stroke-width="1.5"/>
<text x="140.2" y="415.23" font-size="6.8" text-anchor="start" fill="#222" font-family='"Liberation Sans", sans-serif' stroke="#222" stroke-width="0.08">low_risk</text>
<text x="140.2" y="422.83" font-size="6.8" text-anchor="start" fill="#222" font-family='"Liberation Sans", sans-serif' stroke="#222" stroke-width="0.08">high_risk</text>
<text x="60.9" y="490.08" font-size="6.38" text-anchor="start" fill="#222" font-family='"Liberation Sans", sans-serif' stroke="#222" stroke-width="0.05">HR = 2.16 (1.71 -&#160; 2.73)</text>
<text x="60.9" y="497.68" font-size="6.38" fill="#222" stroke="#222" stroke-width="0.05" font-family='"Liberation Sans", sans-serif'><tspan font-style="italic">P</tspan> &lt; 0.001</text>
<text x="52.9" y="534.21" font-size="7.3" text-anchor="end" fill="#a6cfe6" font-family='"Liberation Sans", sans-serif' stroke="#a6cfe6" stroke-width="0.05">low_risk</text>
<text x="52.9" y="545.81" font-size="7.3" text-anchor="end" fill="#ee6595" font-family='"Liberation Sans", sans-serif' stroke="#ee6595" stroke-width="0.05">high_risk</text>
<text x="66.4" y="534" font-size="6.7" text-anchor="middle" fill="#a6cfe6" font-family='"Liberation Sans", sans-serif' stroke="#a6cfe6" stroke-width="0.05">235</text>
<text x="66.4" y="545.6" font-size="6.7" text-anchor="middle" fill="#ee6595" font-family='"Liberation Sans", sans-serif' stroke="#ee6595" stroke-width="0.05">235</text>
<text x="99.7" y="534" font-size="6.7" text-anchor="middle" fill="#a6cfe6" font-family='"Liberation Sans", sans-serif' stroke="#a6cfe6" stroke-width="0.05">157</text>
<text x="99.7" y="545.6" font-size="6.7" text-anchor="middle" fill="#ee6595" font-family='"Liberation Sans", sans-serif' stroke="#ee6595" stroke-width="0.05">148</text>
<text x="122" y="534" font-size="6.7" text-anchor="middle" fill="#a6cfe6" font-family='"Liberation Sans", sans-serif' stroke="#a6cfe6" stroke-width="0.05">101</text>
<text x="122" y="545.6" font-size="6.7" text-anchor="middle" fill="#ee6595" font-family='"Liberation Sans", sans-serif' stroke="#ee6595" stroke-width="0.05">59</text>
<text x="157.6" y="534" font-size="6.7" text-anchor="middle" fill="#a6cfe6" font-family='"Liberation Sans", sans-serif' stroke="#a6cfe6" stroke-width="0.05">46</text>
<text x="157.6" y="545.6" font-size="6.7" text-anchor="middle" fill="#ee6595" font-family='"Liberation Sans", sans-serif' stroke="#ee6595" stroke-width="0.05">14</text>
<text x="97.2" y="562.81" font-size="10.6" text-anchor="middle" fill="#111" font-family='"Liberation Serif", serif' font-weight="bold">(E)</text>
<polyline points="220.3,473.5 220.32,472.91 220.34,472.09 220.38,471.12 220.41,470.07 220.45,469.01 220.5,468 220.55,467.01 220.61,465.98 220.68,464.94 220.75,463.91 220.83,462.92 220.9,462 220.98,461.13 221.06,460.3 221.15,459.5 221.24,458.76 221.32,458.09 221.4,457.5 221.46,457.03 221.51,456.69 221.56,456.41 221.61,456.15 221.69,455.86 221.8,455.5 221.95,455.05 222.12,454.53 222.32,453.99 222.53,453.46 222.76,452.95 223,452.5 223.22,452.13 223.41,451.8 223.62,451.51 223.89,451.23 224.23,450.93 224.7,450.6 225.26,450.24 225.89,449.87 226.6,449.49 227.42,449.09 228.38,448.66 229.5,448.2 230.83,447.69 232.37,447.12 234.05,446.53 235.79,445.93 237.53,445.35 239.2,444.8 240.81,444.28 242.41,443.77 244.02,443.28 245.62,442.8 247.21,442.34 248.8,441.9 250.35,441.48 251.86,441.08 253.36,440.69 254.9,440.32 256.5,439.96 258.2,439.6 260.05,439.24 262.02,438.89 264.06,438.54 266.11,438.2 268.11,437.89 270,437.6 271.81,437.34 273.6,437.1 275.34,436.89 277.01,436.69 278.57,436.49 280,436.3 281.19,436.13 282.13,436 282.97,435.88 283.86,435.74 284.92,435.56 286.3,435.3" fill="none" stroke="#a6cfe6" stroke-width="2.7" stroke-linejoin="round"/>
<polyline points="286.3,435.3 288.04,434.96 290.02,434.54 292.19,434.09 294.47,433.61 296.79,433.14 299.1,432.7 301.42,432.29 303.8,431.88 306.24,431.47 308.7,431.08 311.16,430.69 313.6,430.3 316.12,429.91 318.77,429.51 321.41,429.12 323.94,428.74 326.25,428.4 328.2,428.1 329.74,427.86 330.95,427.67 331.93,427.51 332.78,427.36 333.6,427.19 334.5,427 335.43,426.78 336.3,426.56 337.14,426.32 337.99,426.07 338.86,425.8 339.8,425.5 340.84,425.2 341.96,424.89 343.11,424.56 344.23,424.2 345.28,423.78 346.2,423.3 346.99,422.73 347.69,422.08 348.31,421.38 348.86,420.64 349.35,419.91 349.8,419.2 350.18,418.49 350.48,417.75 350.72,417.01 350.92,416.29 351.11,415.61 351.3,415 351.5,414.43 351.68,413.89 351.84,413.39 351.99,412.94 352.11,412.58 352.2,412.3" fill="none" stroke="#ee6595" stroke-width="2.7" stroke-linejoin="round"/>
<line x1="219.6" y1="411.5" x2="219.6" y2="538.5" stroke="#333" stroke-width="1"/>
<line x1="217.3" y1="418.4" x2="219.6" y2="418.4" stroke="#333" stroke-width="0.9"/>
<text x="215.8" y="420.19" font-size="5" text-anchor="end" fill="#444" font-family='"Liberation Sans", sans-serif' stroke="#444" stroke-width="0.06">1</text>
<line x1="217.3" y1="436" x2="219.6" y2="436" stroke="#333" stroke-width="0.9"/>
<text x="215.8" y="437.79" font-size="5" text-anchor="end" fill="#444" font-family='"Liberation Sans", sans-serif' stroke="#444" stroke-width="0.06">0</text>
<line x1="217.3" y1="453.6" x2="219.6" y2="453.6" stroke="#333" stroke-width="0.9"/>
<text x="215.8" y="455.39" font-size="5" text-anchor="end" fill="#444" font-family='"Liberation Sans", sans-serif' stroke="#444" stroke-width="0.06">-1</text>
<line x1="217.3" y1="471.1" x2="219.6" y2="471.1" stroke="#333" stroke-width="0.9"/>
<text x="215.8" y="472.89" font-size="5" text-anchor="end" fill="#444" font-family='"Liberation Sans", sans-serif' stroke="#444" stroke-width="0.06">-2</text>
<text x="206.4" y="445.24" font-size="5.7" text-anchor="middle" fill="#333" font-family='"Liberation Sans", sans-serif' transform="rotate(-90 206.4 443.2)" stroke="#333" stroke-width="0.06">Risk score</text>
<circle cx="221.28" cy="535.29" r="1.1" fill="#a3cfe6" fill-opacity="0.9"/>
<circle cx="221.83" cy="526.34" r="1.1" fill="#a3cfe6" fill-opacity="0.9"/>
<circle cx="222.67" cy="499.3" r="1.1" fill="#a3cfe6" fill-opacity="0.9"/>
<circle cx="222.95" cy="528.64" r="1.1" fill="#a3cfe6" fill-opacity="0.9"/>
<circle cx="225.45" cy="493.79" r="1.1" fill="#a3cfe6" fill-opacity="0.9"/>
<circle cx="225.73" cy="524.59" r="1.1" fill="#a3cfe6" fill-opacity="0.9"/>
<circle cx="226.84" cy="517.27" r="1.1" fill="#a3cfe6" fill-opacity="0.9"/>
<circle cx="227.96" cy="526.21" r="1.1" fill="#a3cfe6" fill-opacity="0.9"/>
<circle cx="228.51" cy="521.32" r="1.1" fill="#a3cfe6" fill-opacity="0.9"/>
<circle cx="229.9" cy="528.83" r="1.1" fill="#a3cfe6" fill-opacity="0.9"/>
<circle cx="230.74" cy="529.68" r="1.1" fill="#a3cfe6" fill-opacity="0.9"/>
<circle cx="231.02" cy="533.07" r="1.1" fill="#a3cfe6" fill-opacity="0.9"/>
<circle cx="231.3" cy="513.26" r="1.1" fill="#a3cfe6" fill-opacity="0.9"/>
<circle cx="231.57" cy="526.59" r="1.1" fill="#a3cfe6" fill-opacity="0.9"/>
<circle cx="232.69" cy="508.04" r="1.1" fill="#a3cfe6" fill-opacity="0.9"/>
<circle cx="233.52" cy="512.96" r="1.1" fill="#a3cfe6" fill-opacity="0.9"/>
<circle cx="233.8" cy="507.19" r="1.1" fill="#a3cfe6" fill-opacity="0.9"/>
<circle cx="234.36" cy="505.49" r="1.1" fill="#a3cfe6" fill-opacity="0.9"/>
<circle cx="234.63" cy="532.21" r="1.1" fill="#a3cfe6" fill-opacity="0.9"/>
<circle cx="235.19" cy="527.9" r="1.1" fill="#a3cfe6" fill-opacity="0.9"/>
<circle cx="235.47" cy="533.26" r="1.1" fill="#a3cfe6" fill-opacity="0.9"/>
<circle cx="236.03" cy="523.89" r="1.1" fill="#a3cfe6" fill-opacity="0.9"/>
<circle cx="236.3" cy="512.66" r="1.1" fill="#a3cfe6" fill-opacity="0.9"/>
<circle cx="238.25" cy="498.81" r="1.1" fill="#a3cfe6" fill-opacity="0.9"/>
<circle cx="238.53" cy="523.93" r="1.1" fill="#a3cfe6" fill-opacity="0.9"/>
<circle cx="239.09" cy="516.2" r="1.1" fill="#a3cfe6" fill-opacity="0.9"/>
<circle cx="239.36" cy="523.56" r="1.1" fill="#a3cfe6" fill-opacity="0.9"/>
<circle cx="239.64" cy="521.61" r="1.1" fill="#a3cfe6" fill-opacity="0.9"/>
<circle cx="240.2" cy="525.69" r="1.1" fill="#a3cfe6" fill-opacity="0.9"/>
<circle cx="240.48" cy="517.45" r="1.1" fill="#a3cfe6" fill-opacity="0.9"/>
<circle cx="240.76" cy="492.95" r="1.1" fill="#a3cfe6" fill-opacity="0.9"/>
<circle cx="241.31" cy="530.54" r="1.1" fill="#a3cfe6" fill-opacity="0.9"/>
<circle cx="241.59" cy="536.72" r="1.1" fill="#a3cfe6" fill-opacity="0.9"/>
<circle cx="242.15" cy="496.86" r="1.1" fill="#a3cfe6" fill-opacity="0.9"/>
<circle cx="242.98" cy="532.65" r="1.1" fill="#a3cfe6" fill-opacity="0.9"/>
<circle cx="243.26" cy="535.12" r="1.1" fill="#a3cfe6" fill-opacity="0.9"/>
<circle cx="244.09" cy="532.66" r="1.1" fill="#a3cfe6" fill-opacity="0.9"/>
<circle cx="244.65" cy="514.88" r="1.1" fill="#a3cfe6" fill-opacity="0.9"/>
<circle cx="244.93" cy="506.16" r="1.1" fill="#a3cfe6" fill-opacity="0.9"/>
<circle cx="245.21" cy="529.11" r="1.1" fill="#a3cfe6" fill-opacity="0.9"/>
<circle cx="245.76" cy="506.26" r="1.1" fill="#a3cfe6" fill-opacity="0.9"/>
<circle cx="246.6" cy="531.57" r="1.1" fill="#a3cfe6" fill-opacity="0.9"/>
<circle cx="246.88" cy="509.21" r="1.1" fill="#a3cfe6" fill-opacity="0.9"/>
<circle cx="248.27" cy="504.4" r="1.1" fill="#a3cfe6" fill-opacity="0.9"/>
<circle cx="248.83" cy="529.1" r="1.1" fill="#a3cfe6" fill-opacity="0.9"/>
<circle cx="249.94" cy="536.04" r="1.1" fill="#a3cfe6" fill-opacity="0.9"/>
<circle cx="250.49" cy="535.92" r="1.1" fill="#a3cfe6" fill-opacity="0.9"/>
<circle cx="250.77" cy="498.05" r="1.1" fill="#a3cfe6" fill-opacity="0.9"/>
<circle cx="252.72" cy="536.58" r="1.1" fill="#a3cfe6" fill-opacity="0.9"/>
<circle cx="253" cy="514.39" r="1.1" fill="#a3cfe6" fill-opacity="0.9"/>
<circle cx="253.28" cy="517.95" r="1.1" fill="#a3cfe6" fill-opacity="0.9"/>
<circle cx="253.56" cy="506.47" r="1.1" fill="#a3cfe6" fill-opacity="0.9"/>
<circle cx="254.11" cy="504.09" r="1.1" fill="#a3cfe6" fill-opacity="0.9"/>
<circle cx="254.39" cy="517.45" r="1.1" fill="#a3cfe6" fill-opacity="0.9"/>
<circle cx="254.67" cy="535.94" r="1.1" fill="#a3cfe6" fill-opacity="0.9"/>
<circle cx="255.22" cy="502.09" r="1.1" fill="#a3cfe6" fill-opacity="0.9"/>
<circle cx="255.5" cy="536.25" r="1.1" fill="#a3cfe6" fill-opacity="0.9"/>
<circle cx="255.78" cy="507.24" r="1.1" fill="#a3cfe6" fill-opacity="0.9"/>
<circle cx="256.89" cy="523.72" r="1.1" fill="#a3cfe6" fill-opacity="0.9"/>
<circle cx="258.01" cy="531.69" r="1.1" fill="#a3cfe6" fill-opacity="0.9"/>
<circle cx="258.29" cy="521.54" r="1.1" fill="#a3cfe6" fill-opacity="0.9"/>
<circle cx="259.12" cy="527.04" r="1.1" fill="#a3cfe6" fill-opacity="0.9"/>
<circle cx="259.4" cy="529.47" r="1.1" fill="#a3cfe6" fill-opacity="0.9"/>
<circle cx="259.68" cy="511.08" r="1.1" fill="#a3cfe6" fill-opacity="0.9"/>
<circle cx="259.96" cy="502.44" r="1.1" fill="#a3cfe6" fill-opacity="0.9"/>
<circle cx="260.79" cy="516.37" r="1.1" fill="#a3cfe6" fill-opacity="0.9"/>
<circle cx="261.07" cy="533.97" r="1.1" fill="#a3cfe6" fill-opacity="0.9"/>
<circle cx="261.62" cy="514.89" r="1.1" fill="#a3cfe6" fill-opacity="0.9"/>
<circle cx="262.18" cy="509.41" r="1.1" fill="#a3cfe6" fill-opacity="0.9"/>
<circle cx="263.02" cy="528.41" r="1.1" fill="#a3cfe6" fill-opacity="0.9"/>
<circle cx="263.29" cy="513.24" r="1.1" fill="#a3cfe6" fill-opacity="0.9"/>
<circle cx="263.57" cy="519.57" r="1.1" fill="#a3cfe6" fill-opacity="0.9"/>
<circle cx="264.13" cy="534.44" r="1.1" fill="#a3cfe6" fill-opacity="0.9"/>
<circle cx="266.36" cy="514.42" r="1.1" fill="#a3cfe6" fill-opacity="0.9"/>
<circle cx="266.63" cy="521.03" r="1.1" fill="#a3cfe6" fill-opacity="0.9"/>
<circle cx="266.91" cy="531.52" r="1.1" fill="#a3cfe6" fill-opacity="0.9"/>
<circle cx="267.19" cy="534.89" r="1.1" fill="#a3cfe6" fill-opacity="0.9"/>
<circle cx="267.75" cy="504.36" r="1.1" fill="#a3cfe6" fill-opacity="0.9"/>
<circle cx="268.58" cy="524.35" r="1.1" fill="#a3cfe6" fill-opacity="0.9"/>
<circle cx="269.42" cy="490.29" r="1.1" fill="#a3cfe6" fill-opacity="0.9"/>
<circle cx="269.97" cy="530.83" r="1.1" fill="#a3cfe6" fill-opacity="0.9"/>
<circle cx="270.25" cy="521.28" r="1.1" fill="#a3cfe6" fill-opacity="0.9"/>
<circle cx="271.64" cy="514.17" r="1.1" fill="#a3cfe6" fill-opacity="0.9"/>
<circle cx="273.03" cy="523.59" r="1.1" fill="#a3cfe6" fill-opacity="0.9"/>
<circle cx="273.31" cy="520.95" r="1.1" fill="#a3cfe6" fill-opacity="0.9"/>
<circle cx="273.59" cy="515.42" r="1.1" fill="#a3cfe6" fill-opacity="0.9"/>
<circle cx="274.42" cy="531.4" r="1.1" fill="#a3cfe6" fill-opacity="0.9"/>
<circle cx="274.7" cy="529.38" r="1.1" fill="#a3cfe6" fill-opacity="0.9"/>
<circle cx="275.26" cy="526.84" r="1.1" fill="#a3cfe6" fill-opacity="0.9"/>
<circle cx="275.54" cy="503.12" r="1.1" fill="#a3cfe6" fill-opacity="0.9"/>
<circle cx="275.82" cy="508.86" r="1.1" fill="#a3cfe6" fill-opacity="0.9"/>
<circle cx="276.09" cy="536.15" r="1.1" fill="#a3cfe6" fill-opacity="0.9"/>
<circle cx="276.37" cy="526.34" r="1.1" fill="#a3cfe6" fill-opacity="0.9"/>
<circle cx="277.21" cy="529.54" r="1.1" fill="#a3cfe6" fill-opacity="0.9"/>
<circle cx="277.76" cy="532.83" r="1.1" fill="#a3cfe6" fill-opacity="0.9"/>
<circle cx="278.32" cy="536.91" r="1.1" fill="#a3cfe6" fill-opacity="0.9"/>
<circle cx="278.6" cy="523.48" r="1.1" fill="#a3cfe6" fill-opacity="0.9"/>
<circle cx="278.88" cy="525.95" r="1.1" fill="#a3cfe6" fill-opacity="0.9"/>
<circle cx="280.55" cy="511.05" r="1.1" fill="#a3cfe6" fill-opacity="0.9"/>
<circle cx="280.82" cy="526.12" r="1.1" fill="#a3cfe6" fill-opacity="0.9"/>
<circle cx="282.22" cy="515.58" r="1.1" fill="#a3cfe6" fill-opacity="0.9"/>
<circle cx="283.05" cy="529.29" r="1.1" fill="#a3cfe6" fill-opacity="0.9"/>
<circle cx="284.72" cy="501.06" r="1.1" fill="#a3cfe6" fill-opacity="0.9"/>
<circle cx="285.55" cy="527.41" r="1.1" fill="#a3cfe6" fill-opacity="0.9"/>
<circle cx="286.11" cy="506.94" r="1.1" fill="#a3cfe6" fill-opacity="0.9"/>
<circle cx="288.34" cy="530.93" r="1.1" fill="#a3cfe6" fill-opacity="0.9"/>
<circle cx="288.62" cy="506.04" r="1.1" fill="#a3cfe6" fill-opacity="0.9"/>
<circle cx="289.17" cy="534.11" r="1.1" fill="#a3cfe6" fill-opacity="0.9"/>
<circle cx="290.56" cy="502.58" r="1.1" fill="#a3cfe6" fill-opacity="0.9"/>
<circle cx="293.07" cy="534.11" r="1.1" fill="#a3cfe6" fill-opacity="0.9"/>
<circle cx="293.62" cy="528.48" r="1.1" fill="#a3cfe6" fill-opacity="0.9"/>
<circle cx="294.18" cy="534.27" r="1.1" fill="#a3cfe6" fill-opacity="0.9"/>
<circle cx="295.01" cy="513.38" r="1.1" fill="#a3cfe6" fill-opacity="0.9"/>
<circle cx="295.57" cy="520.68" r="1.1" fill="#a3cfe6" fill-opacity="0.9"/>
<circle cx="297.8" cy="524.26" r="1.1" fill="#a3cfe6" fill-opacity="0.9"/>
<circle cx="298.63" cy="513.13" r="1.1" fill="#a3cfe6" fill-opacity="0.9"/>
<circle cx="298.91" cy="532.22" r="1.1" fill="#a3cfe6" fill-opacity="0.9"/>
<circle cx="299.19" cy="517.68" r="1.1" fill="#a3cfe6" fill-opacity="0.9"/>
<circle cx="301.14" cy="516.88" r="1.1" fill="#a3cfe6" fill-opacity="0.9"/>
<circle cx="301.97" cy="522.17" r="1.1" fill="#a3cfe6" fill-opacity="0.9"/>
<circle cx="302.25" cy="532.82" r="1.1" fill="#a3cfe6" fill-opacity="0.9"/>
<circle cx="302.81" cy="521.59" r="1.1" fill="#a3cfe6" fill-opacity="0.9"/>
<circle cx="303.36" cy="532.93" r="1.1" fill="#a3cfe6" fill-opacity="0.9"/>
<circle cx="303.92" cy="528.4" r="1.1" fill="#a3cfe6" fill-opacity="0.9"/>
<circle cx="305.03" cy="513.79" r="1.1" fill="#a3cfe6" fill-opacity="0.9"/>
<circle cx="305.31" cy="536.6" r="1.1" fill="#a3cfe6" fill-opacity="0.9"/>
<circle cx="305.59" cy="521.17" r="1.1" fill="#a3cfe6" fill-opacity="0.9"/>
<circle cx="305.87" cy="531.88" r="1.1" fill="#a3cfe6" fill-opacity="0.9"/>
<circle cx="306.42" cy="532.8" r="1.1" fill="#a3cfe6" fill-opacity="0.9"/>
<circle cx="306.7" cy="514.63" r="1.1" fill="#a3cfe6" fill-opacity="0.9"/>
<circle cx="307.54" cy="527.06" r="1.1" fill="#a3cfe6" fill-opacity="0.9"/>
<circle cx="308.93" cy="525.36" r="1.1" fill="#a3cfe6" fill-opacity="0.9"/>
<circle cx="309.48" cy="526.06" r="1.1" fill="#a3cfe6" fill-opacity="0.9"/>
<circle cx="310.32" cy="532.27" r="1.1" fill="#a3cfe6" fill-opacity="0.9"/>
<circle cx="310.88" cy="515.43" r="1.1" fill="#a3cfe6" fill-opacity="0.9"/>
<circle cx="311.99" cy="533.23" r="1.1" fill="#a3cfe6" fill-opacity="0.9"/>
<circle cx="313.66" cy="526.67" r="1.1" fill="#a3cfe6" fill-opacity="0.9"/>
<circle cx="314.21" cy="525.42" r="1.1" fill="#a3cfe6" fill-opacity="0.9"/>
<circle cx="315.61" cy="523.91" r="1.1" fill="#a3cfe6" fill-opacity="0.9"/>
<circle cx="315.88" cy="526.14" r="1.1" fill="#a3cfe6" fill-opacity="0.9"/>
<circle cx="316.44" cy="525.1" r="1.1" fill="#a3cfe6" fill-opacity="0.9"/>
<circle cx="316.72" cy="534.09" r="1.1" fill="#a3cfe6" fill-opacity="0.9"/>
<circle cx="317" cy="526.72" r="1.1" fill="#a3cfe6" fill-opacity="0.9"/>
<circle cx="319.5" cy="533.66" r="1.1" fill="#a3cfe6" fill-opacity="0.9"/>
<circle cx="320.06" cy="536.75" r="1.1" fill="#a3cfe6" fill-opacity="0.9"/>
<circle cx="320.61" cy="532.36" r="1.1" fill="#a3cfe6" fill-opacity="0.9"/>
<circle cx="322.28" cy="519.98" r="1.1" fill="#a3cfe6" fill-opacity="0.9"/>
<circle cx="322.56" cy="532.37" r="1.1" fill="#a3cfe6" fill-opacity="0.9"/>
<circle cx="322.84" cy="526.97" r="1.1" fill="#a3cfe6" fill-opacity="0.9"/>
<circle cx="323.67" cy="526.5" r="1.1" fill="#a3cfe6" fill-opacity="0.9"/>
<circle cx="324.79" cy="534.68" r="1.1" fill="#a3cfe6" fill-opacity="0.9"/>
<circle cx="325.07" cy="529.88" r="1.1" fill="#a3cfe6" fill-opacity="0.9"/>
<circle cx="326.18" cy="534.6" r="1.1" fill="#a3cfe6" fill-opacity="0.9"/>
<circle cx="327.57" cy="536.8" r="1.1" fill="#a3cfe6" fill-opacity="0.9"/>
<circle cx="328.13" cy="534.42" r="1.1" fill="#a3cfe6" fill-opacity="0.9"/>
<circle cx="328.68" cy="522.01" r="1.1" fill="#a3cfe6" fill-opacity="0.9"/>
<circle cx="328.96" cy="523.19" r="1.1" fill="#a3cfe6" fill-opacity="0.9"/>
<circle cx="331.74" cy="504.05" r="1.1" fill="#a3cfe6" fill-opacity="0.9"/>
<circle cx="332.3" cy="511.96" r="1.1" fill="#a3cfe6" fill-opacity="0.9"/>
<circle cx="332.58" cy="532.82" r="1.1" fill="#a3cfe6" fill-opacity="0.9"/>
<circle cx="333.69" cy="535.42" r="1.1" fill="#a3cfe6" fill-opacity="0.9"/>
<circle cx="334.25" cy="534.13" r="1.1" fill="#a3cfe6" fill-opacity="0.9"/>
<circle cx="337.59" cy="536.5" r="1.1" fill="#a3cfe6" fill-opacity="0.9"/>
<circle cx="337.87" cy="524.36" r="1.1" fill="#a3cfe6" fill-opacity="0.9"/>
<circle cx="338.42" cy="535.19" r="1.1" fill="#a3cfe6" fill-opacity="0.9"/>
<circle cx="338.98" cy="517.7" r="1.1" fill="#a3cfe6" fill-opacity="0.9"/>
<circle cx="339.26" cy="525.02" r="1.1" fill="#a3cfe6" fill-opacity="0.9"/>
<circle cx="342.04" cy="523.83" r="1.1" fill="#a3cfe6" fill-opacity="0.9"/>
<circle cx="342.32" cy="534.95" r="1.1" fill="#a3cfe6" fill-opacity="0.9"/>
<circle cx="342.6" cy="526.28" r="1.1" fill="#a3cfe6" fill-opacity="0.9"/>
<circle cx="342.87" cy="531.05" r="1.1" fill="#a3cfe6" fill-opacity="0.9"/>
<circle cx="344.27" cy="535.29" r="1.1" fill="#a3cfe6" fill-opacity="0.9"/>
<circle cx="344.82" cy="521.26" r="1.1" fill="#a3cfe6" fill-opacity="0.9"/>
<circle cx="345.38" cy="527.39" r="1.1" fill="#a3cfe6" fill-opacity="0.9"/>
<circle cx="345.66" cy="518.94" r="1.1" fill="#a3cfe6" fill-opacity="0.9"/>
<circle cx="345.93" cy="523.03" r="1.1" fill="#a3cfe6" fill-opacity="0.9"/>
<circle cx="346.49" cy="518.78" r="1.1" fill="#a3cfe6" fill-opacity="0.9"/>
<circle cx="347.05" cy="519.58" r="1.1" fill="#a3cfe6" fill-opacity="0.9"/>
<circle cx="347.6" cy="521.61" r="1.1" fill="#a3cfe6" fill-opacity="0.9"/>
<circle cx="348.16" cy="524.39" r="1.1" fill="#a3cfe6" fill-opacity="0.9"/>
<circle cx="349.27" cy="526.55" r="1.1" fill="#a3cfe6" fill-opacity="0.9"/>
<circle cx="350.94" cy="536.4" r="1.1" fill="#a3cfe6" fill-opacity="0.9"/>
<circle cx="221" cy="501.38" r="1.2" fill="#ee6595"/>
<circle cx="221.56" cy="502.78" r="1.2" fill="#ee6595"/>
<circle cx="222.11" cy="509.78" r="1.2" fill="#ee6595"/>
<circle cx="222.39" cy="492.6" r="1.2" fill="#ee6595"/>
<circle cx="223.23" cy="527.99" r="1.2" fill="#ee6595"/>
<circle cx="223.5" cy="522.82" r="1.2" fill="#ee6595"/>
<circle cx="223.78" cy="512.28" r="1.2" fill="#ee6595"/>
<circle cx="224.06" cy="504.24" r="1.2" fill="#ee6595"/>
<circle cx="224.34" cy="491.08" r="1.2" fill="#ee6595"/>
<circle cx="224.62" cy="498.92" r="1.2" fill="#ee6595"/>
<circle cx="224.9" cy="498.19" r="1.2" fill="#ee6595"/>
<circle cx="225.17" cy="510.77" r="1.2" fill="#ee6595"/>
<circle cx="226.01" cy="494.42" r="1.2" fill="#ee6595"/>
<circle cx="226.29" cy="490.88" r="1.2" fill="#ee6595"/>
<circle cx="226.57" cy="483.66" r="1.2" fill="#ee6595"/>
<circle cx="227.12" cy="487.32" r="1.2" fill="#ee6595"/>
<circle cx="227.4" cy="481.16" r="1.2" fill="#ee6595"/>
<circle cx="227.68" cy="521.71" r="1.2" fill="#ee6595"/>
<circle cx="228.23" cy="483.06" r="1.2" fill="#ee6595"/>
<circle cx="228.79" cy="519.68" r="1.2" fill="#ee6595"/>
<circle cx="229.07" cy="493.15" r="1.2" fill="#ee6595"/>
<circle cx="229.35" cy="501.39" r="1.2" fill="#ee6595"/>
<circle cx="229.63" cy="514.63" r="1.2" fill="#ee6595"/>
<circle cx="230.18" cy="513.58" r="1.2" fill="#ee6595"/>
<circle cx="230.46" cy="482.33" r="1.2" fill="#ee6595"/>
<circle cx="231.85" cy="510.05" r="1.2" fill="#ee6595"/>
<circle cx="232.13" cy="520.43" r="1.2" fill="#ee6595"/>
<circle cx="232.41" cy="512.24" r="1.2" fill="#ee6595"/>
<circle cx="232.96" cy="483.55" r="1.2" fill="#ee6595"/>
<circle cx="233.24" cy="500.95" r="1.2" fill="#ee6595"/>
<circle cx="234.08" cy="495.47" r="1.2" fill="#ee6595"/>
<circle cx="234.91" cy="524.83" r="1.2" fill="#ee6595"/>
<circle cx="235.75" cy="515.39" r="1.2" fill="#ee6595"/>
<circle cx="236.58" cy="486.85" r="1.2" fill="#ee6595"/>
<circle cx="236.86" cy="527.72" r="1.2" fill="#ee6595"/>
<circle cx="237.14" cy="504.81" r="1.2" fill="#ee6595"/>
<circle cx="237.42" cy="515.35" r="1.2" fill="#ee6595"/>
<circle cx="237.7" cy="501.02" r="1.2" fill="#ee6595"/>
<circle cx="237.97" cy="507.61" r="1.2" fill="#ee6595"/>
<circle cx="238.81" cy="487.32" r="1.2" fill="#ee6595"/>
<circle cx="239.92" cy="495.56" r="1.2" fill="#ee6595"/>
<circle cx="241.03" cy="493.43" r="1.2" fill="#ee6595"/>
<circle cx="241.87" cy="498.95" r="1.2" fill="#ee6595"/>
<circle cx="242.43" cy="495.63" r="1.2" fill="#ee6595"/>
<circle cx="242.7" cy="504.98" r="1.2" fill="#ee6595"/>
<circle cx="243.54" cy="496.97" r="1.2" fill="#ee6595"/>
<circle cx="243.82" cy="499.73" r="1.2" fill="#ee6595"/>
<circle cx="244.37" cy="509.87" r="1.2" fill="#ee6595"/>
<circle cx="245.49" cy="492.76" r="1.2" fill="#ee6595"/>
<circle cx="246.04" cy="509.28" r="1.2" fill="#ee6595"/>
<circle cx="246.32" cy="503.24" r="1.2" fill="#ee6595"/>
<circle cx="247.16" cy="504.65" r="1.2" fill="#ee6595"/>
<circle cx="247.43" cy="513.52" r="1.2" fill="#ee6595"/>
<circle cx="247.71" cy="499.38" r="1.2" fill="#ee6595"/>
<circle cx="247.99" cy="509.32" r="1.2" fill="#ee6595"/>
<circle cx="248.55" cy="525.65" r="1.2" fill="#ee6595"/>
<circle cx="249.1" cy="493.39" r="1.2" fill="#ee6595"/>
<circle cx="249.38" cy="517.52" r="1.2" fill="#ee6595"/>
<circle cx="249.66" cy="526.51" r="1.2" fill="#ee6595"/>
<circle cx="250.22" cy="523.98" r="1.2" fill="#ee6595"/>
<circle cx="251.05" cy="503.89" r="1.2" fill="#ee6595"/>
<circle cx="251.33" cy="528.78" r="1.2" fill="#ee6595"/>
<circle cx="251.61" cy="496.4" r="1.2" fill="#ee6595"/>
<circle cx="251.89" cy="511.01" r="1.2" fill="#ee6595"/>
<circle cx="252.16" cy="497" r="1.2" fill="#ee6595"/>
<circle cx="252.44" cy="499.74" r="1.2" fill="#ee6595"/>
<circle cx="253.83" cy="489.16" r="1.2" fill="#ee6595"/>
<circle cx="254.95" cy="487.96" r="1.2" fill="#ee6595"/>
<circle cx="256.06" cy="504.96" r="1.2" fill="#ee6595"/>
<circle cx="256.34" cy="494.34" r="1.2" fill="#ee6595"/>
<circle cx="256.62" cy="526.03" r="1.2" fill="#ee6595"/>
<circle cx="257.17" cy="493.54" r="1.2" fill="#ee6595"/>
<circle cx="257.45" cy="516.8" r="1.2" fill="#ee6595"/>
<circle cx="257.73" cy="496.06" r="1.2" fill="#ee6595"/>
<circle cx="258.56" cy="502.34" r="1.2" fill="#ee6595"/>
<circle cx="258.84" cy="495.86" r="1.2" fill="#ee6595"/>
<circle cx="260.23" cy="514.14" r="1.2" fill="#ee6595"/>
<circle cx="260.51" cy="503.04" r="1.2" fill="#ee6595"/>
<circle cx="261.35" cy="503.4" r="1.2" fill="#ee6595"/>
<circle cx="261.9" cy="505.85" r="1.2" fill="#ee6595"/>
<circle cx="262.46" cy="518.05" r="1.2" fill="#ee6595"/>
<circle cx="262.74" cy="492.33" r="1.2" fill="#ee6595"/>
<circle cx="263.85" cy="512.93" r="1.2" fill="#ee6595"/>
<circle cx="264.41" cy="495.79" r="1.2" fill="#ee6595"/>
<circle cx="264.69" cy="502.82" r="1.2" fill="#ee6595"/>
<circle cx="264.96" cy="514.29" r="1.2" fill="#ee6595"/>
<circle cx="265.24" cy="505.1" r="1.2" fill="#ee6595"/>
<circle cx="265.52" cy="505.86" r="1.2" fill="#ee6595"/>
<circle cx="265.8" cy="516.2" r="1.2" fill="#ee6595"/>
<circle cx="266.08" cy="499.2" r="1.2" fill="#ee6595"/>
<circle cx="267.47" cy="477.31" r="1.2" fill="#ee6595"/>
<circle cx="268.02" cy="495.95" r="1.2" fill="#ee6595"/>
<circle cx="268.3" cy="519.95" r="1.2" fill="#ee6595"/>
<circle cx="268.86" cy="497.42" r="1.2" fill="#ee6595"/>
<circle cx="269.14" cy="514.14" r="1.2" fill="#ee6595"/>
<circle cx="269.69" cy="502.96" r="1.2" fill="#ee6595"/>
<circle cx="270.53" cy="501.62" r="1.2" fill="#ee6595"/>
<circle cx="270.81" cy="501.12" r="1.2" fill="#ee6595"/>
<circle cx="271.09" cy="514.93" r="1.2" fill="#ee6595"/>
<circle cx="271.36" cy="491.19" r="1.2" fill="#ee6595"/>
<circle cx="271.92" cy="484.25" r="1.2" fill="#ee6595"/>
<circle cx="272.2" cy="494.48" r="1.2" fill="#ee6595"/>
<circle cx="272.48" cy="504.14" r="1.2" fill="#ee6595"/>
<circle cx="272.75" cy="505.31" r="1.2" fill="#ee6595"/>
<circle cx="273.87" cy="515.92" r="1.2" fill="#ee6595"/>
<circle cx="274.15" cy="527.92" r="1.2" fill="#ee6595"/>
<circle cx="274.98" cy="503" r="1.2" fill="#ee6595"/>
<circle cx="276.65" cy="504.08" r="1.2" fill="#ee6595"/>
<circle cx="276.93" cy="507.84" r="1.2" fill="#ee6595"/>
<circle cx="277.49" cy="484.83" r="1.2" fill="#ee6595"/>
<circle cx="278.04" cy="506.66" r="1.2" fill="#ee6595"/>
<circle cx="279.15" cy="506.25" r="1.2" fill="#ee6595"/>
<circle cx="279.43" cy="514.4" r="1.2" fill="#ee6595"/>
<circle cx="279.71" cy="519.86" r="1.2" fill="#ee6595"/>
<circle cx="279.99" cy="487.61" r="1.2" fill="#ee6595"/>
<circle cx="280.27" cy="502.9" r="1.2" fill="#ee6595"/>
<circle cx="281.1" cy="494.7" r="1.2" fill="#ee6595"/>
<circle cx="281.38" cy="485.95" r="1.2" fill="#ee6595"/>
<circle cx="281.66" cy="503.99" r="1.2" fill="#ee6595"/>
<circle cx="281.94" cy="503.27" r="1.2" fill="#ee6595"/>
<circle cx="282.49" cy="500.25" r="1.2" fill="#ee6595"/>
<circle cx="282.77" cy="510.47" r="1.2" fill="#ee6595"/>
<circle cx="283.33" cy="496.31" r="1.2" fill="#ee6595"/>
<circle cx="283.61" cy="528.16" r="1.2" fill="#ee6595"/>
<circle cx="283.88" cy="524.4" r="1.2" fill="#ee6595"/>
<circle cx="284.16" cy="494.88" r="1.2" fill="#ee6595"/>
<circle cx="284.44" cy="488.11" r="1.2" fill="#ee6595"/>
<circle cx="285" cy="487.62" r="1.2" fill="#ee6595"/>
<circle cx="285.28" cy="503.81" r="1.2" fill="#ee6595"/>
<circle cx="285.83" cy="485.42" r="1.2" fill="#ee6595"/>
<circle cx="286.39" cy="525.09" r="1.2" fill="#ee6595"/>
<circle cx="286.67" cy="513.7" r="1.2" fill="#ee6595"/>
<circle cx="286.95" cy="528.64" r="1.2" fill="#ee6595"/>
<circle cx="287.22" cy="524.66" r="1.2" fill="#ee6595"/>
<circle cx="287.5" cy="505.99" r="1.2" fill="#ee6595"/>
<circle cx="287.78" cy="519.57" r="1.2" fill="#ee6595"/>
<circle cx="288.06" cy="514.85" r="1.2" fill="#ee6595"/>
<circle cx="288.89" cy="525.15" r="1.2" fill="#ee6595"/>
<circle cx="289.45" cy="505.27" r="1.2" fill="#ee6595"/>
<circle cx="289.73" cy="508.98" r="1.2" fill="#ee6595"/>
<circle cx="290.01" cy="502.19" r="1.2" fill="#ee6595"/>
<circle cx="290.28" cy="519.98" r="1.2" fill="#ee6595"/>
<circle cx="290.84" cy="528.05" r="1.2" fill="#ee6595"/>
<circle cx="291.12" cy="514.67" r="1.2" fill="#ee6595"/>
<circle cx="291.4" cy="525.7" r="1.2" fill="#ee6595"/>
<circle cx="291.68" cy="527.33" r="1.2" fill="#ee6595"/>
<circle cx="291.95" cy="505.64" r="1.2" fill="#ee6595"/>
<circle cx="292.23" cy="507.47" r="1.2" fill="#ee6595"/>
<circle cx="292.51" cy="512.95" r="1.2" fill="#ee6595"/>
<circle cx="292.79" cy="517.15" r="1.2" fill="#ee6595"/>
<circle cx="293.35" cy="524.87" r="1.2" fill="#ee6595"/>
<circle cx="293.9" cy="519.69" r="1.2" fill="#ee6595"/>
<circle cx="294.46" cy="483.44" r="1.2" fill="#ee6595"/>
<circle cx="294.74" cy="510.55" r="1.2" fill="#ee6595"/>
<circle cx="295.29" cy="525.98" r="1.2" fill="#ee6595"/>
<circle cx="295.85" cy="505.26" r="1.2" fill="#ee6595"/>
<circle cx="296.13" cy="501.1" r="1.2" fill="#ee6595"/>
<circle cx="296.41" cy="521.17" r="1.2" fill="#ee6595"/>
<circle cx="296.68" cy="526.79" r="1.2" fill="#ee6595"/>
<circle cx="296.96" cy="503.51" r="1.2" fill="#ee6595"/>
<circle cx="297.24" cy="518.93" r="1.2" fill="#ee6595"/>
<circle cx="297.52" cy="516.74" r="1.2" fill="#ee6595"/>
<circle cx="298.08" cy="504.22" r="1.2" fill="#ee6595"/>
<circle cx="298.35" cy="492.1" r="1.2" fill="#ee6595"/>
<circle cx="299.47" cy="516.5" r="1.2" fill="#ee6595"/>
<circle cx="299.75" cy="515.59" r="1.2" fill="#ee6595"/>
<circle cx="300.02" cy="521.82" r="1.2" fill="#ee6595"/>
<circle cx="300.3" cy="499.98" r="1.2" fill="#ee6595"/>
<circle cx="300.58" cy="497.79" r="1.2" fill="#ee6595"/>
<circle cx="300.86" cy="522.5" r="1.2" fill="#ee6595"/>
<circle cx="301.41" cy="511.7" r="1.2" fill="#ee6595"/>
<circle cx="301.69" cy="509.88" r="1.2" fill="#ee6595"/>
<circle cx="302.53" cy="526.8" r="1.2" fill="#ee6595"/>
<circle cx="303.08" cy="523.81" r="1.2" fill="#ee6595"/>
<circle cx="303.64" cy="520.92" r="1.2" fill="#ee6595"/>
<circle cx="304.2" cy="486.98" r="1.2" fill="#ee6595"/>
<circle cx="304.48" cy="512.45" r="1.2" fill="#ee6595"/>
<circle cx="304.75" cy="503.7" r="1.2" fill="#ee6595"/>
<circle cx="306.14" cy="504.18" r="1.2" fill="#ee6595"/>
<circle cx="306.98" cy="521.48" r="1.2" fill="#ee6595"/>
<circle cx="307.26" cy="518.66" r="1.2" fill="#ee6595"/>
<circle cx="307.81" cy="525.1" r="1.2" fill="#ee6595"/>
<circle cx="308.09" cy="501.08" r="1.2" fill="#ee6595"/>
<circle cx="308.37" cy="527.95" r="1.2" fill="#ee6595"/>
<circle cx="308.65" cy="509.27" r="1.2" fill="#ee6595"/>
<circle cx="309.21" cy="520.42" r="1.2" fill="#ee6595"/>
<circle cx="309.76" cy="522.18" r="1.2" fill="#ee6595"/>
<circle cx="310.04" cy="522.66" r="1.2" fill="#ee6595"/>
<circle cx="310.6" cy="519.62" r="1.2" fill="#ee6595"/>
<circle cx="311.15" cy="488.37" r="1.2" fill="#ee6595"/>
<circle cx="311.43" cy="520.9" r="1.2" fill="#ee6595"/>
<circle cx="311.71" cy="489.41" r="1.2" fill="#ee6595"/>
<circle cx="312.27" cy="511.7" r="1.2" fill="#ee6595"/>
<circle cx="312.54" cy="483.19" r="1.2" fill="#ee6595"/>
<circle cx="312.82" cy="520.35" r="1.2" fill="#ee6595"/>
<circle cx="313.1" cy="513.15" r="1.2" fill="#ee6595"/>
<circle cx="313.38" cy="500" r="1.2" fill="#ee6595"/>
<circle cx="313.94" cy="519.65" r="1.2" fill="#ee6595"/>
<circle cx="314.49" cy="482.44" r="1.2" fill="#ee6595"/>
<circle cx="314.77" cy="511.05" r="1.2" fill="#ee6595"/>
<circle cx="315.05" cy="501.35" r="1.2" fill="#ee6595"/>
<circle cx="315.33" cy="498.65" r="1.2" fill="#ee6595"/>
<circle cx="316.16" cy="513.28" r="1.2" fill="#ee6595"/>
<circle cx="317.28" cy="511.36" r="1.2" fill="#ee6595"/>
<circle cx="317.55" cy="498.04" r="1.2" fill="#ee6595"/>
<circle cx="317.83" cy="518.11" r="1.2" fill="#ee6595"/>
<circle cx="318.11" cy="518.26" r="1.2" fill="#ee6595"/>
<circle cx="318.39" cy="503.96" r="1.2" fill="#ee6595"/>
<circle cx="318.67" cy="505.18" r="1.2" fill="#ee6595"/>
<circle cx="318.94" cy="515.63" r="1.2" fill="#ee6595"/>
<circle cx="319.22" cy="487.16" r="1.2" fill="#ee6595"/>
<circle cx="319.78" cy="516.16" r="1.2" fill="#ee6595"/>
<circle cx="320.34" cy="482.85" r="1.2" fill="#ee6595"/>
<circle cx="320.89" cy="518.71" r="1.2" fill="#ee6595"/>
<circle cx="321.17" cy="510.87" r="1.2" fill="#ee6595"/>
<circle cx="321.45" cy="517.34" r="1.2" fill="#ee6595"/>
<circle cx="321.73" cy="506.04" r="1.2" fill="#ee6595"/>
<circle cx="322.01" cy="521.64" r="1.2" fill="#ee6595"/>
<circle cx="323.12" cy="504.26" r="1.2" fill="#ee6595"/>
<circle cx="323.4" cy="515.39" r="1.2" fill="#ee6595"/>
<circle cx="323.95" cy="520.72" r="1.2" fill="#ee6595"/>
<circle cx="324.23" cy="524.67" r="1.2" fill="#ee6595"/>
<circle cx="324.51" cy="527.31" r="1.2" fill="#ee6595"/>
<circle cx="325.34" cy="517.51" r="1.2" fill="#ee6595"/>
<circle cx="325.62" cy="531.96" r="1.2" fill="#ee6595"/>
<circle cx="325.9" cy="504.63" r="1.2" fill="#ee6595"/>
<circle cx="326.46" cy="517.53" r="1.2" fill="#ee6595"/>
<circle cx="326.74" cy="506.69" r="1.2" fill="#ee6595"/>
<circle cx="327.01" cy="516.14" r="1.2" fill="#ee6595"/>
<circle cx="327.29" cy="500.43" r="1.2" fill="#ee6595"/>
<circle cx="327.85" cy="501.55" r="1.2" fill="#ee6595"/>
<circle cx="328.41" cy="504.03" r="1.2" fill="#ee6595"/>
<circle cx="329.24" cy="521.71" r="1.2" fill="#ee6595"/>
<circle cx="329.52" cy="520.12" r="1.2" fill="#ee6595"/>
<circle cx="329.8" cy="504.75" r="1.2" fill="#ee6595"/>
<circle cx="330.07" cy="491.19" r="1.2" fill="#ee6595"/>
<circle cx="330.35" cy="513.46" r="1.2" fill="#ee6595"/>
<circle cx="330.63" cy="486.24" r="1.2" fill="#ee6595"/>
<circle cx="330.91" cy="493.26" r="1.2" fill="#ee6595"/>
<circle cx="331.19" cy="510.12" r="1.2" fill="#ee6595"/>
<circle cx="331.47" cy="519.5" r="1.2" fill="#ee6595"/>
<circle cx="332.02" cy="524.74" r="1.2" fill="#ee6595"/>
<circle cx="332.86" cy="510.58" r="1.2" fill="#ee6595"/>
<circle cx="333.14" cy="530.21" r="1.2" fill="#ee6595"/>
<circle cx="333.41" cy="483.92" r="1.2" fill="#ee6595"/>
<circle cx="333.97" cy="505.85" r="1.2" fill="#ee6595"/>
<circle cx="334.53" cy="521.65" r="1.2" fill="#ee6595"/>
<circle cx="334.8" cy="523.84" r="1.2" fill="#ee6595"/>
<circle cx="335.08" cy="509.8" r="1.2" fill="#ee6595"/>
<circle cx="335.36" cy="511.56" r="1.2" fill="#ee6595"/>
<circle cx="335.64" cy="509.85" r="1.2" fill="#ee6595"/>
<circle cx="335.92" cy="507.05" r="1.2" fill="#ee6595"/>
<circle cx="336.2" cy="505.86" r="1.2" fill="#ee6595"/>
<circle cx="336.47" cy="488.1" r="1.2" fill="#ee6595"/>
<circle cx="336.75" cy="513.24" r="1.2" fill="#ee6595"/>
<circle cx="337.03" cy="507.76" r="1.2" fill="#ee6595"/>
<circle cx="337.31" cy="501.96" r="1.2" fill="#ee6595"/>
<circle cx="338.14" cy="509.93" r="1.2" fill="#ee6595"/>
<circle cx="338.7" cy="514.45" r="1.2" fill="#ee6595"/>
<circle cx="339.54" cy="502.26" r="1.2" fill="#ee6595"/>
<circle cx="339.81" cy="508.92" r="1.2" fill="#ee6595"/>
<circle cx="340.09" cy="524.66" r="1.2" fill="#ee6595"/>
<circle cx="340.37" cy="512.15" r="1.2" fill="#ee6595"/>
<circle cx="340.65" cy="528.65" r="1.2" fill="#ee6595"/>
<circle cx="340.93" cy="511.34" r="1.2" fill="#ee6595"/>
<circle cx="341.2" cy="518.24" r="1.2" fill="#ee6595"/>
<circle cx="341.48" cy="520.41" r="1.2" fill="#ee6595"/>
<circle cx="341.76" cy="492.7" r="1.2" fill="#ee6595"/>
<circle cx="343.15" cy="489.05" r="1.2" fill="#ee6595"/>
<circle cx="343.43" cy="520.14" r="1.2" fill="#ee6595"/>
<circle cx="343.71" cy="517.71" r="1.2" fill="#ee6595"/>
<circle cx="343.99" cy="493.94" r="1.2" fill="#ee6595"/>
<circle cx="344.54" cy="530.29" r="1.2" fill="#ee6595"/>
<circle cx="345.1" cy="490.75" r="1.2" fill="#ee6595"/>
<circle cx="346.21" cy="522.68" r="1.2" fill="#ee6595"/>
<circle cx="346.77" cy="521.94" r="1.2" fill="#ee6595"/>
<circle cx="347.33" cy="493.55" r="1.2" fill="#ee6595"/>
<circle cx="347.88" cy="504.8" r="1.2" fill="#ee6595"/>
<circle cx="348.44" cy="504.16" r="1.2" fill="#ee6595"/>
<circle cx="348.72" cy="522.33" r="1.2" fill="#ee6595"/>
<circle cx="349" cy="506.13" r="1.2" fill="#ee6595"/>
<circle cx="349.55" cy="494.71" r="1.2" fill="#ee6595"/>
<circle cx="349.83" cy="520.64" r="1.2" fill="#ee6595"/>
<circle cx="350.11" cy="491.4" r="1.2" fill="#ee6595"/>
<circle cx="350.39" cy="519.11" r="1.2" fill="#ee6595"/>
<circle cx="350.67" cy="526.34" r="1.2" fill="#ee6595"/>
<circle cx="351.22" cy="508.68" r="1.2" fill="#ee6595"/>
<circle cx="351.5" cy="519.92" r="1.2" fill="#ee6595"/>
<line x1="217.3" y1="486" x2="219.6" y2="486" stroke="#333" stroke-width="0.9"/>
<text x="216.1" y="487.79" font-size="5" text-anchor="end" fill="#444" font-family='"Liberation Sans", sans-serif' stroke="#444" stroke-width="0.06">7.5</text>
<line x1="217.3" y1="503.1" x2="219.6" y2="503.1" stroke="#333" stroke-width="0.9"/>
<text x="216.1" y="504.89" font-size="5" text-anchor="end" fill="#444" font-family='"Liberation Sans", sans-serif' stroke="#444" stroke-width="0.06">5.0</text>
<line x1="217.3" y1="520.2" x2="219.6" y2="520.2" stroke="#333" stroke-width="0.9"/>
<text x="216.1" y="521.99" font-size="5" text-anchor="end" fill="#444" font-family='"Liberation Sans", sans-serif' stroke="#444" stroke-width="0.06">2.5</text>
<line x1="217.3" y1="537.3" x2="219.6" y2="537.3" stroke="#333" stroke-width="0.9"/>
<text x="216.1" y="539.09" font-size="5" text-anchor="end" fill="#444" font-family='"Liberation Sans", sans-serif' stroke="#444" stroke-width="0.06">0.0</text>
<text x="203.8" y="509" font-size="5.6" text-anchor="middle" fill="#333" font-family='"Liberation Sans", sans-serif' transform="rotate(-90 203.8 507)" stroke="#333" stroke-width="0.06">Survival time</text>
<line x1="286.3" y1="410.6" x2="286.3" y2="537.5" stroke="#222" stroke-width="1" stroke-dasharray="2.1,2.65"/>
<rect x="220.4" y="539.4" width="65.9" height="4.4" fill="#a6cfe6"/>
<rect x="286.3" y="539.4" width="65.8" height="4.4" fill="#ee6595"/>
<text x="354.9" y="439.02" font-size="4.8" text-anchor="start" fill="#333" font-family='"Liberation Sans", sans-serif' stroke="#333" stroke-width="0.05">Risk Group</text>
<circle cx="357.6" cy="443.5" r="1.15" fill="#a6cfe6"/>
<text x="363.1" y="445.22" font-size="4.8" text-anchor="start" fill="#333" font-family='"Liberation Sans", sans-serif' stroke="#333" stroke-width="0.05">Low</text>
<circle cx="357.6" cy="449.1" r="1.15" fill="#ee6595"/>
<text x="363.1" y="450.82" font-size="4.8" text-anchor="start" fill="#333" font-family='"Liberation Sans", sans-serif' stroke="#333" stroke-width="0.05">High</text>
<text x="354.9" y="502.52" font-size="4.8" text-anchor="start" fill="#333" font-family='"Liberation Sans", sans-serif' stroke="#333" stroke-width="0.05">Status</text>
<circle cx="357.6" cy="507.1" r="1.15" fill="#a6cfe6"/>
<text x="363.1" y="508.82" font-size="4.8" text-anchor="start" fill="#333" font-family='"Liberation Sans", sans-serif' stroke="#333" stroke-width="0.05">Alive</text>
<circle cx="357.6" cy="512.5" r="1.15" fill="#ee6595"/>
<text x="363.1" y="514.22" font-size="4.8" text-anchor="start" fill="#333" font-family='"Liberation Sans", sans-serif' stroke="#333" stroke-width="0.05">Dead</text>
<text x="288.7" y="562.91" font-size="10.6" text-anchor="middle" fill="#111" font-family='"Liberation Serif", serif' font-weight="bold">(F)</text>
<line x1="422.7" y1="404.7" x2="422.7" y2="529.3" stroke="#ebebeb" stroke-width="0.8"/>
<line x1="421.7" y1="529.2" x2="538.3" y2="529.2" stroke="#ebebeb" stroke-width="0.8"/>
<line x1="434.25" y1="404.7" x2="434.25" y2="529.3" stroke="#f3f3f3" stroke-width="0.8"/>
<line x1="421.7" y1="516.8" x2="538.3" y2="516.8" stroke="#f3f3f3" stroke-width="0.8"/>
<line x1="445.8" y1="404.7" x2="445.8" y2="529.3" stroke="#ebebeb" stroke-width="0.8"/>
<line x1="421.7" y1="504.4" x2="538.3" y2="504.4" stroke="#ebebeb" stroke-width="0.8"/>
<line x1="457.35" y1="404.7" x2="457.35" y2="529.3" stroke="#f3f3f3" stroke-width="0.8"/>
<line x1="421.7" y1="492" x2="538.3" y2="492" stroke="#f3f3f3" stroke-width="0.8"/>
<line x1="468.9" y1="404.7" x2="468.9" y2="529.3" stroke="#ebebeb" stroke-width="0.8"/>
<line x1="421.7" y1="479.6" x2="538.3" y2="479.6" stroke="#ebebeb" stroke-width="0.8"/>
<line x1="480.45" y1="404.7" x2="480.45" y2="529.3" stroke="#f3f3f3" stroke-width="0.8"/>
<line x1="421.7" y1="467.2" x2="538.3" y2="467.2" stroke="#f3f3f3" stroke-width="0.8"/>
<line x1="492" y1="404.7" x2="492" y2="529.3" stroke="#ebebeb" stroke-width="0.8"/>
<line x1="421.7" y1="454.8" x2="538.3" y2="454.8" stroke="#ebebeb" stroke-width="0.8"/>
<line x1="503.55" y1="404.7" x2="503.55" y2="529.3" stroke="#f3f3f3" stroke-width="0.8"/>
<line x1="421.7" y1="442.4" x2="538.3" y2="442.4" stroke="#f3f3f3" stroke-width="0.8"/>
<line x1="515.1" y1="404.7" x2="515.1" y2="529.3" stroke="#ebebeb" stroke-width="0.8"/>
<line x1="421.7" y1="430" x2="538.3" y2="430" stroke="#ebebeb" stroke-width="0.8"/>
<line x1="526.65" y1="404.7" x2="526.65" y2="529.3" stroke="#f3f3f3" stroke-width="0.8"/>
<line x1="421.7" y1="417.6" x2="538.3" y2="417.6" stroke="#f3f3f3" stroke-width="0.8"/>
<line x1="538.2" y1="404.7" x2="538.2" y2="529.3" stroke="#ebebeb" stroke-width="0.8"/>
<line x1="421.7" y1="405.2" x2="538.3" y2="405.2" stroke="#ebebeb" stroke-width="0.8"/>
<rect x="462.5" y="511.6" width="75.1" height="17" fill="#fff"/>
<line x1="422.7" y1="529.2" x2="538.2" y2="405.2" stroke="#5a5a5a" stroke-width="1.1" stroke-dasharray="3.7,2.9"/>
<polyline points="421.9,529.1 422.04,529.1 422.04,527.56 422.19,527.56 422.19,526.01 422.33,526.01 422.33,524.47 422.47,524.47 422.47,522.93 422.61,522.93 422.61,521.39 422.76,521.39 422.76,519.84 422.9,519.84 422.9,518.3 423.57,518.3 423.57,516.33 424.23,516.33 424.23,514.37 424.9,514.37 424.9,512.4 425.53,512.4 425.53,510.77 426.17,510.77 426.17,509.13 426.8,509.13 426.8,507.5 427.8,507.5 427.8,505.87 428.8,505.87 428.8,504.23 429.8,504.23 429.8,502.6 430.2,502.6 430.2,501.02 430.6,501.02 430.6,499.44 431,499.44 431,497.86 431.4,497.86 431.4,496.28 431.8,496.28 431.8,494.7 431.98,494.7 431.98,493.12 432.16,493.12 432.16,491.54 432.34,491.54 432.34,489.96 432.52,489.96 432.52,488.38 432.7,488.38 432.7,486.8 433.7,486.8 433.7,484.85 434.7,484.85 434.7,482.9 435.7,482.9 435.7,481.27 436.7,481.27 436.7,479.63 437.7,479.63 437.7,478 439,478 439,476.37 440.3,476.37 440.3,474.73 441.6,474.73 441.6,473.1 444.05,473.1 444.05,471.6 446.5,471.6 446.5,470.1 447.17,470.1 447.17,468.13 447.83,468.13 447.83,466.17 448.5,466.17 448.5,464.2 449,464.2 449,462.25 449.5,462.25 449.5,460.3 454.4,460.3 454.4,457.4 455.37,457.4 455.37,455.73 456.33,455.73 456.33,454.07 457.3,454.07 457.3,452.4 459.3,452.4 459.3,449.5 460.3,449.5 460.3,447.55 461.3,447.55 461.3,445.6 465.2,445.6 465.2,443.6 467.15,443.6 467.15,441.65 469.1,441.65 469.1,439.7 470.1,439.7 470.1,438.03 471.1,438.03 471.1,436.37 472.1,436.37 472.1,434.7 474.55,434.7 474.55,432.75 477,432.75 477,430.8 480.9,430.8 480.9,428.3 488,428.3 488,427.5 490.4,427.5 490.4,424.8 493.3,424.8 493.3,423.18 496.2,423.18 496.2,421.55 499.1,421.55 499.1,419.93 502,419.93 502,418.3 507.8,418.3 507.8,416.45 513.6,416.45 513.6,414.6 520.15,414.6 520.15,412.8 526.7,412.8 526.7,411 529.6,411 529.6,408.8 532.5,408.8 532.5,406.6 537.6,406.6 537.6,405.2" fill="none" stroke="#f0a3bd" stroke-width="1.1" stroke-linejoin="miter"/>
<rect x="421.7" y="404.7" width="116.6" height="124.6" fill="none" stroke="#222" stroke-width="1.1"/>
<line x1="419.2" y1="529.2" x2="421.7" y2="529.2" stroke="#222" stroke-width="1"/>
<text x="416.9" y="531.6" font-size="6.7" text-anchor="end" fill="#4d4d4d" font-family='"Liberation Sans", sans-serif' stroke="#4d4d4d" stroke-width="0.18">0.0</text>
<line x1="422.7" y1="529.3" x2="422.7" y2="531.8" stroke="#222" stroke-width="1"/>
<text x="422.7" y="539.63" font-size="6.5" text-anchor="middle" fill="#4d4d4d" font-family='"Liberation Sans", sans-serif' stroke="#4d4d4d" stroke-width="0.18">0.0</text>
<line x1="419.2" y1="504.4" x2="421.7" y2="504.4" stroke="#222" stroke-width="1"/>
<text x="416.9" y="506.8" font-size="6.7" text-anchor="end" fill="#4d4d4d" font-family='"Liberation Sans", sans-serif' stroke="#4d4d4d" stroke-width="0.18">0.2</text>
<line x1="445.8" y1="529.3" x2="445.8" y2="531.8" stroke="#222" stroke-width="1"/>
<text x="445.8" y="539.63" font-size="6.5" text-anchor="middle" fill="#4d4d4d" font-family='"Liberation Sans", sans-serif' stroke="#4d4d4d" stroke-width="0.18">0.2</text>
<line x1="419.2" y1="479.6" x2="421.7" y2="479.6" stroke="#222" stroke-width="1"/>
<text x="416.9" y="482" font-size="6.7" text-anchor="end" fill="#4d4d4d" font-family='"Liberation Sans", sans-serif' stroke="#4d4d4d" stroke-width="0.18">0.4</text>
<line x1="468.9" y1="529.3" x2="468.9" y2="531.8" stroke="#222" stroke-width="1"/>
<text x="468.9" y="539.63" font-size="6.5" text-anchor="middle" fill="#4d4d4d" font-family='"Liberation Sans", sans-serif' stroke="#4d4d4d" stroke-width="0.18">0.4</text>
<line x1="419.2" y1="454.8" x2="421.7" y2="454.8" stroke="#222" stroke-width="1"/>
<text x="416.9" y="457.2" font-size="6.7" text-anchor="end" fill="#4d4d4d" font-family='"Liberation Sans", sans-serif' stroke="#4d4d4d" stroke-width="0.18">0.6</text>
<line x1="492" y1="529.3" x2="492" y2="531.8" stroke="#222" stroke-width="1"/>
<text x="492" y="539.63" font-size="6.5" text-anchor="middle" fill="#4d4d4d" font-family='"Liberation Sans", sans-serif' stroke="#4d4d4d" stroke-width="0.18">0.6</text>
<line x1="419.2" y1="430" x2="421.7" y2="430" stroke="#222" stroke-width="1"/>
<text x="416.9" y="432.4" font-size="6.7" text-anchor="end" fill="#4d4d4d" font-family='"Liberation Sans", sans-serif' stroke="#4d4d4d" stroke-width="0.18">0.8</text>
<line x1="515.1" y1="529.3" x2="515.1" y2="531.8" stroke="#222" stroke-width="1"/>
<text x="515.1" y="539.63" font-size="6.5" text-anchor="middle" fill="#4d4d4d" font-family='"Liberation Sans", sans-serif' stroke="#4d4d4d" stroke-width="0.18">0.8</text>
<line x1="419.2" y1="405.2" x2="421.7" y2="405.2" stroke="#222" stroke-width="1"/>
<text x="416.9" y="407.6" font-size="6.7" text-anchor="end" fill="#4d4d4d" font-family='"Liberation Sans", sans-serif' stroke="#4d4d4d" stroke-width="0.18">1.0</text>
<line x1="538.2" y1="529.3" x2="538.2" y2="531.8" stroke="#222" stroke-width="1"/>
<text x="538.2" y="539.63" font-size="6.5" text-anchor="middle" fill="#4d4d4d" font-family='"Liberation Sans", sans-serif' stroke="#4d4d4d" stroke-width="0.18">1.0</text>
<text x="400.8" y="468.81" font-size="7.3" text-anchor="middle" fill="#222" font-family='"Liberation Sans", sans-serif' transform="rotate(-90 400.8 466.2)" stroke="#222" stroke-width="0.18">Sensitivity (TPR)</text>
<text x="480.2" y="548.91" font-size="7.3" text-anchor="middle" fill="#222" font-family='"Liberation Sans", sans-serif' stroke="#222" stroke-width="0.18">1-Specificity (FPR)</text>
<text x="465" y="519.39" font-size="6.4" text-anchor="start" fill="#333" font-family='"Liberation Sans", sans-serif' stroke="#333" stroke-width="0.18">riskScore</text>
<line x1="465.4" y1="524.6" x2="472" y2="524.6" stroke="#f0a3bd" stroke-width="1.2"/>
<text x="475.6" y="526.89" font-size="6.4" text-anchor="start" fill="#333" font-family='"Liberation Sans", sans-serif' stroke="#333" stroke-width="0.18">5-year (AUC = 0.716)</text>
<text x="470.5" y="564.01" font-size="11.2" text-anchor="middle" fill="#111" font-family='"Liberation Serif", serif' stroke="#111" stroke-width="0.25">(G)</text>
</svg>
</body></html>
